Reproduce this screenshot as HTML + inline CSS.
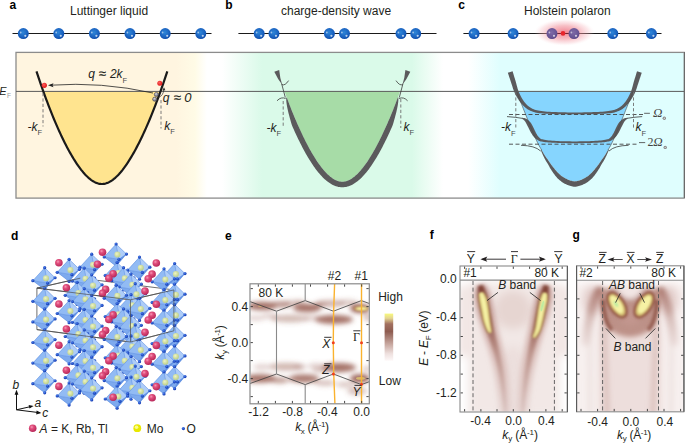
<!DOCTYPE html><html><head><meta charset="utf-8"><style>
html,body{margin:0;padding:0;background:#fff;width:685px;height:446px;overflow:hidden}
svg{display:block}text{font-family:"Liberation Sans",sans-serif}
.serif{font-family:"Liberation Serif",serif}
</style></head><body>
<svg width="685" height="446" viewBox="0 0 685 446">
<defs>
<radialGradient id="gAtom" cx="0.45" cy="0.4" r="0.6"><stop offset="0" stop-color="#2f86d8"/><stop offset="0.7" stop-color="#1a62c0"/><stop offset="1" stop-color="#0e4aa8"/></radialGradient>
<radialGradient id="gAtomP" cx="0.45" cy="0.4" r="0.6"><stop offset="0" stop-color="#7e6aa6"/><stop offset="0.7" stop-color="#6a5696"/><stop offset="1" stop-color="#5a4888"/></radialGradient>
<radialGradient id="gGlow" cx="0.5" cy="0.5" r="0.5"><stop offset="0" stop-color="#ec5a6c" stop-opacity="0.75"/><stop offset="0.5" stop-color="#f08a96" stop-opacity="0.55"/><stop offset="0.8" stop-color="#f6b4bc" stop-opacity="0.3"/><stop offset="1" stop-color="#fde0e4" stop-opacity="0"/></radialGradient>
<linearGradient id="gTop" x1="16" x2="684" y1="0" y2="0" gradientUnits="userSpaceOnUse"><stop offset="0" stop-color="#fff5e0"/><stop offset="0.2395" stop-color="#fff5e0"/><stop offset="0.2680" stop-color="#fffbe6"/><stop offset="0.2859" stop-color="#ffffff"/><stop offset="0.3084" stop-color="#ffffff"/><stop offset="0.3683" stop-color="#dafae9"/><stop offset="0.5928" stop-color="#dafae9"/><stop offset="0.6392" stop-color="#ffffff"/><stop offset="0.6766" stop-color="#ffffff"/><stop offset="0.7246" stop-color="#dffefe"/><stop offset="1" stop-color="#dffefe"/></linearGradient>
</defs>
<rect x="16" y="52" width="668" height="146.5" fill="url(#gTop)"/>
<path d="M43.32 91.4 L44.29 94.12 L45.27 96.8 L46.25 99.44 L47.22 102.05 L48.2 104.62 L49.18 107.15 L50.15 109.65 L51.13 112.11 L52.1 114.54 L53.08 116.93 L54.06 119.28 L55.03 121.6 L56.01 123.89 L56.99 126.14 L57.96 128.35 L58.94 130.53 L59.92 132.67 L60.89 134.77 L61.87 136.84 L62.84 138.88 L63.82 140.87 L64.8 142.83 L65.77 144.76 L66.75 146.64 L67.73 148.49 L68.7 150.3 L69.68 152.07 L70.66 153.8 L71.63 155.49 L72.61 157.14 L73.58 158.75 L74.56 160.32 L75.54 161.85 L76.51 163.33 L77.49 164.77 L78.47 166.17 L79.44 167.52 L80.42 168.83 L81.4 170.09 L82.37 171.3 L83.35 172.46 L84.33 173.58 L85.3 174.64 L86.28 175.66 L87.25 176.62 L88.23 177.53 L89.21 178.38 L90.18 179.18 L91.16 179.92 L92.14 180.61 L93.11 181.23 L94.09 181.8 L95.07 182.3 L96.04 182.74 L97.02 183.12 L97.99 183.43 L98.97 183.68 L99.95 183.86 L100.92 183.96 L101.9 184 L102.88 183.96 L103.85 183.86 L104.83 183.68 L105.81 183.43 L106.78 183.12 L107.76 182.74 L108.73 182.3 L109.71 181.8 L110.69 181.23 L111.66 180.61 L112.64 179.92 L113.62 179.18 L114.59 178.38 L115.57 177.53 L116.55 176.62 L117.52 175.66 L118.5 174.64 L119.47 173.58 L120.45 172.46 L121.43 171.3 L122.4 170.09 L123.38 168.83 L124.36 167.52 L125.33 166.17 L126.31 164.77 L127.29 163.33 L128.26 161.85 L129.24 160.32 L130.22 158.75 L131.19 157.14 L132.17 155.49 L133.14 153.8 L134.12 152.07 L135.1 150.3 L136.07 148.49 L137.05 146.64 L138.03 144.76 L139 142.83 L139.98 140.87 L140.96 138.88 L141.93 136.84 L142.91 134.77 L143.88 132.67 L144.86 130.53 L145.84 128.35 L146.81 126.14 L147.79 123.89 L148.77 121.6 L149.74 119.28 L150.72 116.93 L151.7 114.54 L152.67 112.11 L153.65 109.65 L154.62 107.15 L155.6 104.62 L156.58 102.05 L157.55 99.44 L158.53 96.8 L159.51 94.12 L160.48 91.4 Z" fill="#ffe48f"/>
<path d="M284.54 91.4 L285.51 94.05 L286.47 96.66 L287.43 99.24 L288.39 101.78 L289.36 104.28 L290.32 106.76 L291.28 109.19 L292.24 111.59 L293.21 113.96 L294.17 116.29 L295.13 118.59 L296.09 120.85 L297.06 123.08 L298.02 125.27 L298.98 127.43 L299.94 129.56 L300.91 131.65 L301.87 133.7 L302.83 135.72 L303.79 137.71 L304.76 139.65 L305.72 141.57 L306.68 143.44 L307.65 145.28 L308.61 147.08 L309.57 148.85 L310.53 150.58 L311.5 152.27 L312.46 153.92 L313.42 155.53 L314.38 157.1 L315.35 158.63 L316.31 160.12 L317.27 161.56 L318.23 162.97 L319.2 164.33 L320.16 165.65 L321.12 166.92 L322.08 168.15 L323.05 169.33 L324.01 170.47 L324.97 171.55 L325.94 172.59 L326.9 173.58 L327.86 174.51 L328.82 175.4 L329.79 176.23 L330.75 177.01 L331.71 177.73 L332.67 178.4 L333.64 179.01 L334.6 179.56 L335.56 180.05 L336.52 180.48 L337.49 180.85 L338.45 181.15 L339.41 181.39 L340.37 181.56 L341.34 181.66 L342.3 181.7 L343.26 181.66 L344.23 181.56 L345.19 181.39 L346.15 181.15 L347.11 180.85 L348.08 180.48 L349.04 180.05 L350 179.56 L350.96 179.01 L351.93 178.4 L352.89 177.73 L353.85 177.01 L354.81 176.23 L355.78 175.4 L356.74 174.51 L357.7 173.58 L358.66 172.59 L359.63 171.55 L360.59 170.47 L361.55 169.33 L362.52 168.15 L363.48 166.92 L364.44 165.65 L365.4 164.33 L366.37 162.97 L367.33 161.56 L368.29 160.12 L369.25 158.63 L370.22 157.1 L371.18 155.53 L372.14 153.92 L373.1 152.27 L374.07 150.58 L375.03 148.85 L375.99 147.08 L376.95 145.28 L377.92 143.44 L378.88 141.57 L379.84 139.65 L380.81 137.71 L381.77 135.72 L382.73 133.7 L383.69 131.65 L384.66 129.56 L385.62 127.43 L386.58 125.27 L387.54 123.08 L388.51 120.85 L389.47 118.59 L390.43 116.29 L391.39 113.96 L392.36 111.59 L393.32 109.19 L394.28 106.76 L395.24 104.28 L396.21 101.78 L397.17 99.24 L398.13 96.66 L399.09 94.05 L400.06 91.4 Z" fill="#a7dca7"/>
<path d="M516.63 91.4 L517.6 93.91 L518.57 96.42 L519.54 98.93 L520.51 101.44 L521.47 103.94 L522.44 106.43 L523.41 108.9 L524.38 111.36 L525.35 113.8 L526.32 116.22 L527.29 118.62 L528.26 121.01 L529.23 123.4 L530.2 125.78 L531.17 128.14 L532.14 130.47 L533.11 132.77 L534.08 135.03 L535.05 137.24 L536.02 139.4 L536.99 141.52 L537.96 143.53 L538.93 145.39 L539.9 147.1 L540.87 148.75 L541.84 150.41 L542.8 152.1 L543.77 153.76 L544.74 155.32 L545.71 156.75 L546.68 158.11 L547.65 159.46 L548.62 160.86 L549.59 162.31 L550.56 163.75 L551.53 165.11 L552.5 166.38 L553.47 167.59 L554.44 168.76 L555.41 169.87 L556.38 170.96 L557.35 172.04 L558.32 173.09 L559.29 174.07 L560.26 174.94 L561.23 175.7 L562.2 176.41 L563.17 177.08 L564.13 177.7 L565.1 178.26 L566.07 178.77 L567.04 179.2 L568.01 179.58 L568.98 179.96 L569.95 180.33 L570.92 180.67 L571.89 180.96 L572.86 181.19 L573.83 181.35 L574.8 181.4 L575.77 181.35 L576.74 181.19 L577.71 180.96 L578.68 180.67 L579.65 180.33 L580.62 179.96 L581.59 179.58 L582.56 179.2 L583.53 178.77 L584.5 178.26 L585.47 177.7 L586.43 177.08 L587.4 176.41 L588.37 175.7 L589.34 174.94 L590.31 174.07 L591.28 173.09 L592.25 172.04 L593.22 170.96 L594.19 169.87 L595.16 168.76 L596.13 167.59 L597.1 166.38 L598.07 165.11 L599.04 163.75 L600.01 162.31 L600.98 160.86 L601.95 159.46 L602.92 158.11 L603.89 156.75 L604.86 155.32 L605.83 153.76 L606.8 152.1 L607.76 150.41 L608.73 148.75 L609.7 147.1 L610.67 145.39 L611.64 143.53 L612.61 141.52 L613.58 139.4 L614.55 137.24 L615.52 135.03 L616.49 132.77 L617.46 130.47 L618.43 128.14 L619.4 125.78 L620.37 123.4 L621.34 121.01 L622.31 118.62 L623.28 116.22 L624.25 113.8 L625.22 111.36 L626.19 108.9 L627.16 106.43 L628.13 103.94 L629.09 101.44 L630.06 98.93 L631.03 96.42 L632 93.91 L632.97 91.4 Z" fill="#86d5fe"/>
<rect x="16" y="52.4" width="668.2" height="145.7" fill="none" stroke="#8c8c8c" stroke-width="1.3"/>
<line x1="684.5" y1="52" x2="684.5" y2="198" stroke="#6a6a6a" stroke-width="1"/>
<line x1="16" y1="91.4" x2="684" y2="91.4" stroke="#5a5a5a" stroke-width="1"/>
<path d="M36.48 71.3 L37.57 74.64 L38.66 77.92 L39.75 81.16 L40.84 84.35 L41.94 87.49 L43.03 90.58 L44.12 93.63 L45.21 96.62 L46.3 99.58 L47.39 102.48 L48.48 105.34 L49.57 108.16 L50.66 110.93 L51.75 113.66 L52.84 116.34 L53.93 118.97 L55.02 121.57 L56.11 124.12 L57.2 126.62 L58.29 129.08 L59.38 131.5 L60.47 133.87 L61.56 136.19 L62.65 138.47 L63.74 140.71 L64.83 142.9 L65.92 145.04 L67.01 147.14 L68.1 149.19 L69.19 151.19 L70.28 153.14 L71.37 155.04 L72.46 156.9 L73.55 158.7 L74.64 160.45 L75.73 162.15 L76.82 163.79 L77.91 165.38 L79 166.92 L80.09 168.4 L81.18 169.82 L82.28 171.18 L83.37 172.48 L84.46 173.72 L85.55 174.9 L86.64 176.02 L87.73 177.06 L88.82 178.05 L89.91 178.96 L91 179.8 L92.09 180.57 L93.18 181.27 L94.27 181.9 L95.36 182.44 L96.45 182.91 L97.54 183.3 L98.63 183.6 L99.72 183.82 L100.81 183.96 L101.9 184 L102.99 183.96 L104.08 183.82 L105.17 183.6 L106.26 183.3 L107.35 182.91 L108.44 182.44 L109.53 181.9 L110.62 181.27 L111.71 180.57 L112.8 179.8 L113.89 178.96 L114.98 178.05 L116.07 177.06 L117.16 176.02 L118.25 174.9 L119.34 173.72 L120.43 172.48 L121.52 171.18 L122.62 169.82 L123.71 168.4 L124.8 166.92 L125.89 165.38 L126.98 163.79 L128.07 162.15 L129.16 160.45 L130.25 158.7 L131.34 156.9 L132.43 155.04 L133.52 153.14 L134.61 151.19 L135.7 149.19 L136.79 147.14 L137.88 145.04 L138.97 142.9 L140.06 140.71 L141.15 138.47 L142.24 136.19 L143.33 133.87 L144.42 131.5 L145.51 129.08 L146.6 126.62 L147.69 124.12 L148.78 121.57 L149.87 118.97 L150.96 116.34 L152.05 113.66 L153.14 110.93 L154.23 108.16 L155.32 105.34 L156.41 102.48 L157.5 99.58 L158.59 96.62 L159.68 93.63 L160.77 90.58 L161.86 87.49 L162.96 84.35 L164.05 81.16 L165.14 77.92 L166.23 74.64 L167.32 71.3" fill="none" stroke="#1a1a1a" stroke-width="2.2"/>
<g stroke="#6e6e6e" stroke-width="0.9" stroke-dasharray="3.2 2.2"><line x1="43" y1="93" x2="43" y2="126.5"/><line x1="161" y1="100" x2="161" y2="128.5"/></g>
<path d="M153 93 Q101 81.5 50.5 85.2" fill="none" stroke="#222" stroke-width="0.8"/>
<path d="M48 85.2 L53.5 83.2 L52.5 85.3 L53.5 87.2 Z" fill="#222"/>
<path d="M158.5 97.5 Q163.5 95.5 163.8 89.5" fill="none" stroke="#333" stroke-width="0.7"/>
<path d="M164 87.2 L162.4 90.4 L165.4 90.2 Z" fill="#333"/>
<radialGradient id="gRed" cx="0.4" cy="0.4" r="0.6"><stop offset="0" stop-color="#ff6060"/><stop offset="1" stop-color="#e01818"/></radialGradient>
<radialGradient id="gGrey" cx="0.4" cy="0.35" r="0.6"><stop offset="0" stop-color="#d8d8e0"/><stop offset="1" stop-color="#6a6a78"/></radialGradient>
<circle cx="44.3" cy="85.3" r="2.6" fill="url(#gRed)"/>
<circle cx="159.8" cy="83.2" r="2.5" fill="url(#gRed)"/>
<circle cx="156.4" cy="94.5" r="2.1" fill="url(#gGrey)" stroke="#4a4a55" stroke-width="0.6"/>
<circle cx="154.7" cy="99.2" r="2.1" fill="url(#gGrey)" stroke="#4a4a55" stroke-width="0.6"/>
<text x="88.2" y="78.3" font-size="12" font-style="italic" fill="#231f20">q</text>
<text x="98.8" y="78.3" font-size="13" fill="#231f20" stroke="#231f20" stroke-width="0.25">≈</text>
<text x="109.9" y="78.3" font-size="12" font-style="italic" fill="#231f20">2k<tspan font-size="7.5" font-style="normal" dy="4.2" fill="#4a4a4a">F</tspan></text>
<text x="162.8" y="101.5" font-size="12" font-style="italic" fill="#231f20">q</text>
<text x="173.8" y="101.5" font-size="13" fill="#231f20" stroke="#231f20" stroke-width="0.25">≈</text>
<text x="184.3" y="101.6" font-size="13" font-style="italic" fill="#231f20">0</text>
<text x="27.4" y="131.2" font-size="12" font-style="italic" fill="#231f20">-k<tspan font-size="7.5" font-style="normal" dy="4.2" fill="#4a4a4a">F</tspan></text>
<text x="164.2" y="129.5" font-size="12" font-style="italic" fill="#231f20">k<tspan font-size="7.5" font-style="normal" dy="4.2" fill="#4a4a4a">F</tspan></text>
<text x="-0.8" y="94.8" font-size="11" font-style="italic" fill="#231f20">E</text>
<text x="7" y="97.7" font-size="6.5" fill="#9a9a9a">F</text>
<path d="M286.2 97.66 L286.24 100.39 L286.5 103.07 L286.92 105.68 L287.41 108.23 L287.96 110.73 L288.54 113.19 L289.16 115.61 L289.8 117.99 L290.46 120.33 L291.14 122.64 L291.85 124.96 L292.75 127.21 L293.7 129.34 L294.64 131.42 L295.58 133.47 L296.52 135.48 L297.46 137.47 L298.4 139.42 L299.34 141.34 L300.29 143.23 L301.23 145.09 L302.17 146.91 L303.12 148.7 L304.07 150.46 L305.02 152.19 L305.97 153.88 L306.92 155.54 L307.87 157.16 L308.83 158.75 L309.79 160.31 L310.75 161.83 L311.71 163.32 L312.68 164.77 L313.64 166.18 L314.62 167.55 L315.59 168.89 L316.57 170.19 L317.56 171.46 L318.55 172.68 L319.54 173.86 L320.55 175.01 L321.56 176.11 L322.58 177.17 L323.6 178.19 L324.64 179.17 L325.69 180.1 L326.75 180.99 L327.83 181.83 L328.92 182.62 L330.03 183.36 L331.16 184.05 L332.31 184.68 L333.48 185.26 L334.67 185.77 L335.89 186.22 L337.13 186.6 L338.4 186.9 L339.68 187.12 L340.99 187.25 L342.3 187.3 L343.61 187.25 L344.92 187.12 L346.2 186.9 L347.47 186.6 L348.71 186.22 L349.93 185.77 L351.12 185.26 L352.29 184.68 L353.44 184.05 L354.57 183.36 L355.68 182.62 L356.77 181.83 L357.85 180.99 L358.91 180.1 L359.96 179.17 L361 178.19 L362.02 177.17 L363.04 176.11 L364.05 175.01 L365.06 173.86 L366.05 172.68 L367.04 171.46 L368.03 170.19 L369.01 168.89 L369.98 167.55 L370.96 166.18 L371.92 164.77 L372.89 163.32 L373.85 161.83 L374.81 160.31 L375.77 158.75 L376.73 157.16 L377.68 155.54 L378.63 153.88 L379.58 152.19 L380.53 150.46 L381.48 148.7 L382.43 146.91 L383.37 145.09 L384.31 143.23 L385.26 141.34 L386.2 139.42 L387.14 137.47 L388.08 135.48 L389.02 133.47 L389.96 131.42 L390.9 129.34 L391.85 127.21 L392.75 124.96 L393.46 122.64 L394.14 120.33 L394.8 117.99 L395.44 115.61 L396.06 113.19 L396.64 110.73 L397.19 108.23 L397.68 105.68 L398.1 103.07 L398.36 100.39 L398.4 97.66 L397.81 97.55 L396.86 100.08 L395.93 102.53 L395 104.93 L394.07 107.3 L393.15 109.64 L392.22 111.95 L391.29 114.22 L390.37 116.46 L389.44 118.67 L388.51 120.85 L387.6 122.95 L386.71 124.99 L385.79 127.05 L384.87 129.1 L383.94 131.11 L383.01 133.1 L382.09 135.05 L381.16 136.97 L380.24 138.86 L379.31 140.71 L378.39 142.53 L377.46 144.32 L376.54 146.07 L375.61 147.79 L374.69 149.47 L373.76 151.12 L372.84 152.73 L371.91 154.31 L370.99 155.84 L370.06 157.35 L369.13 158.81 L368.21 160.24 L367.28 161.63 L366.36 162.98 L365.43 164.29 L364.51 165.56 L363.58 166.79 L362.66 167.97 L361.73 169.11 L360.81 170.21 L359.88 171.27 L358.96 172.28 L358.03 173.25 L357.11 174.16 L356.18 175.04 L355.25 175.86 L354.33 176.63 L353.4 177.35 L352.48 178.02 L351.55 178.64 L350.63 179.21 L349.7 179.72 L348.78 180.17 L347.85 180.57 L346.93 180.91 L346 181.19 L345.08 181.41 L344.15 181.57 L343.23 181.67 L342.3 181.7 L341.37 181.67 L340.45 181.57 L339.52 181.41 L338.6 181.19 L337.67 180.91 L336.75 180.57 L335.82 180.17 L334.9 179.72 L333.97 179.21 L333.05 178.64 L332.12 178.02 L331.2 177.35 L330.27 176.63 L329.35 175.86 L328.42 175.04 L327.49 174.16 L326.57 173.25 L325.64 172.28 L324.72 171.27 L323.79 170.21 L322.87 169.11 L321.94 167.97 L321.02 166.79 L320.09 165.56 L319.17 164.29 L318.24 162.98 L317.32 161.63 L316.39 160.24 L315.47 158.81 L314.54 157.35 L313.61 155.84 L312.69 154.31 L311.76 152.73 L310.84 151.12 L309.91 149.47 L308.99 147.79 L308.06 146.07 L307.14 144.32 L306.21 142.53 L305.29 140.71 L304.36 138.86 L303.44 136.97 L302.51 135.05 L301.59 133.1 L300.66 131.11 L299.73 129.1 L298.81 127.05 L297.89 124.99 L297 122.95 L296.09 120.85 L295.16 118.67 L294.23 116.46 L293.31 114.22 L292.38 111.95 L291.45 109.64 L290.53 107.3 L289.6 104.93 L288.67 102.53 L287.74 100.08 L286.79 97.55 Z" fill="#5b5a5c"/>
<g stroke="#3a3a3a" stroke-width="0.8" fill="none">
<path d="M281.6 83.5 L285.3 97.5"/><path d="M403.0 83.5 L399.3 97.5"/>
<path d="M281.9 84.6 Q285 86 288.6 80.6"/><path d="M402.7 84.6 Q399.6 86 396 80.6"/>
<path d="M277 100.8 Q281 96.5 285.6 98.5"/><path d="M407.6 100.8 Q403.6 96.5 399 98.5"/>
</g>
<path d="M274.3 71.8 L279.2 70 Q279.9 78 282.2 84.8 Q277.6 79 274.3 71.8 Z" fill="#5b5a5c"/>
<path d="M410.3 71.8 L405.4 70 Q404.7 78 402.4 84.8 Q407 79 410.3 71.8 Z" fill="#5b5a5c"/>
<g stroke="#6e6e6e" stroke-width="0.9" stroke-dasharray="3.2 2.2"><line x1="283.2" y1="101" x2="283.2" y2="128"/><line x1="400.8" y1="99" x2="400.8" y2="128"/></g>
<text x="266.6" y="131.6" font-size="12" font-style="italic" fill="#231f20">-k<tspan font-size="7.5" font-style="normal" dy="4.2" fill="#4a4a4a">F</tspan></text>
<text x="403.4" y="131.2" font-size="12" font-style="italic" fill="#231f20">k<tspan font-size="7.5" font-style="normal" dy="4.2" fill="#4a4a4a">F</tspan></text>
<path d="M507.82 72.76 L508.09 73.53 L508.44 74.57 L508.85 75.8 L509.31 77.16 L509.79 78.6 L510.27 80.04 L510.74 81.43 L511.16 82.7 L511.55 83.88 L511.93 85.06 L512.31 86.25 L512.68 87.44 L513.07 88.63 L513.47 89.8 L513.89 90.95 L514.35 92.07 L514.82 93.13 L515.3 94.14 L515.79 95.11 L516.29 96.06 L516.81 96.97 L517.34 97.86 L517.88 98.72 L518.42 99.57 L518.98 100.4 L519.54 101.21 L520.12 102.01 L520.72 102.79 L521.33 103.55 L521.98 104.29 L522.65 105.02 L523.35 105.71 L524.05 106.38 L524.77 107.03 L525.51 107.67 L526.28 108.3 L527.1 108.9 L527.98 109.48 L528.91 110.01 L529.89 110.5 L530.88 110.95 L531.87 111.35 L532.89 111.73 L533.97 112.07 L535.13 112.38 L536.4 112.66 L537.79 112.91 L539.33 113.14 L541.06 113.34 L542.95 113.51 L544.97 113.66 L547.09 113.77 L549.28 113.87 L551.51 113.96 L553.74 114.03 L555.96 114.1 L558.19 114.17 L560.47 114.23 L562.78 114.28 L565.13 114.31 L567.49 114.34 L569.87 114.35 L572.24 114.35 L574.6 114.35 L576.98 114.35 L579.39 114.35 L581.82 114.34 L584.25 114.31 L586.66 114.28 L589.04 114.23 L591.37 114.17 L593.64 114.1 L595.87 114.03 L598.12 113.96 L600.35 113.87 L602.54 113.77 L604.65 113.66 L606.66 113.51 L608.54 113.34 L610.27 113.14 L611.81 112.91 L613.2 112.66 L614.47 112.38 L615.63 112.07 L616.71 111.73 L617.73 111.35 L618.72 110.95 L619.71 110.5 L620.69 110.01 L621.62 109.48 L622.5 108.9 L623.32 108.3 L624.09 107.67 L624.83 107.03 L625.55 106.38 L626.25 105.71 L626.95 105.02 L627.62 104.29 L628.27 103.55 L628.88 102.79 L629.48 102.01 L630.06 101.21 L630.62 100.4 L631.18 99.57 L631.72 98.72 L632.26 97.86 L632.79 96.97 L633.31 96.06 L633.81 95.11 L634.3 94.14 L634.78 93.13 L635.25 92.07 L635.71 90.95 L636.13 89.8 L636.53 88.63 L636.92 87.44 L637.29 86.25 L637.67 85.06 L638.05 83.88 L638.44 82.7 L638.86 81.43 L639.33 80.04 L639.81 78.6 L640.29 77.16 L640.75 75.8 L641.16 74.57 L641.51 73.53 L641.78 72.76 L637.02 71.24 L636.79 72.02 L636.47 73.06 L636.09 74.3 L635.67 75.68 L635.23 77.13 L634.78 78.59 L634.35 80 L633.96 81.3 L633.61 82.54 L633.28 83.78 L632.96 85 L632.65 86.19 L632.33 87.35 L632.02 88.46 L631.69 89.52 L631.35 90.53 L630.98 91.51 L630.6 92.45 L630.2 93.37 L629.79 94.26 L629.37 95.12 L628.94 95.97 L628.49 96.8 L628.02 97.63 L627.55 98.44 L627.08 99.23 L626.6 100 L626.1 100.74 L625.6 101.46 L625.08 102.15 L624.53 102.83 L623.95 103.49 L623.34 104.15 L622.72 104.8 L622.09 105.42 L621.45 106.02 L620.77 106.58 L620.07 107.12 L619.32 107.62 L618.49 108.1 L617.62 108.54 L616.74 108.95 L615.84 109.33 L614.88 109.68 L613.84 110.01 L612.69 110.31 L611.4 110.6 L609.93 110.86 L608.28 111.1 L606.46 111.3 L604.49 111.47 L602.41 111.63 L600.25 111.76 L598.03 111.88 L595.79 111.99 L593.56 112.1 L591.31 112.19 L588.99 112.26 L586.62 112.32 L584.22 112.36 L581.8 112.4 L579.37 112.42 L576.97 112.44 L574.6 112.45 L572.24 112.44 L569.88 112.42 L567.51 112.4 L565.16 112.36 L562.82 112.32 L560.52 112.26 L558.25 112.19 L556.04 112.1 L553.83 111.99 L551.6 111.88 L549.38 111.76 L547.21 111.63 L545.12 111.47 L543.15 111.3 L541.32 111.1 L539.67 110.86 L538.2 110.6 L536.91 110.31 L535.76 110.01 L534.72 109.68 L533.76 109.33 L532.86 108.95 L531.98 108.54 L531.11 108.1 L530.28 107.62 L529.53 107.12 L528.83 106.58 L528.15 106.02 L527.51 105.42 L526.88 104.8 L526.26 104.15 L525.65 103.49 L525.07 102.83 L524.52 102.15 L524 101.46 L523.5 100.74 L523 100 L522.52 99.23 L522.05 98.44 L521.58 97.63 L521.11 96.8 L520.66 95.97 L520.23 95.12 L519.81 94.26 L519.4 93.37 L519 92.45 L518.62 91.51 L518.25 90.53 L517.91 89.52 L517.58 88.46 L517.27 87.35 L516.95 86.19 L516.64 85 L516.32 83.78 L515.99 82.54 L515.64 81.3 L515.25 80 L514.82 78.59 L514.37 77.13 L513.93 75.68 L513.51 74.3 L513.13 73.06 L512.81 72.02 L512.58 71.24 Z" fill="#5b5a5c"/>
<path d="M521.85 118.57 L522.08 118.79 L522.4 119.03 L522.77 119.28 L523.18 119.56 L523.59 119.86 L523.98 120.17 L524.33 120.5 L524.61 120.83 L524.89 121.2 L525.17 121.61 L525.46 122.04 L525.74 122.5 L526.01 122.98 L526.28 123.49 L526.55 124.03 L526.81 124.59 L527.13 125.13 L527.46 125.73 L527.79 126.38 L528.13 127.09 L528.48 127.82 L528.83 128.57 L529.2 129.33 L529.56 130.07 L529.95 130.74 L530.33 131.44 L530.72 132.15 L531.12 132.88 L531.54 133.62 L531.97 134.35 L532.42 135.07 L532.9 135.75 L533.4 136.34 L533.9 136.91 L534.42 137.46 L534.95 137.99 L535.5 138.49 L536.08 138.97 L536.69 139.41 L537.29 139.79 L537.83 140.13 L538.32 140.43 L538.85 140.72 L539.43 140.99 L540.1 141.23 L540.85 141.43 L541.74 141.61 L542.8 141.78 L544.03 141.97 L545.41 142.14 L546.92 142.29 L548.55 142.43 L550.28 142.55 L552.1 142.66 L553.99 142.76 L555.95 142.85 L558.02 142.94 L560.22 143.01 L562.52 143.07 L564.91 143.12 L567.34 143.16 L569.78 143.19 L572.21 143.2 L574.6 143.2 L577 143.2 L579.47 143.19 L581.97 143.16 L584.47 143.12 L586.92 143.07 L589.29 143.01 L591.55 142.94 L593.65 142.85 L595.62 142.76 L597.53 142.66 L599.35 142.55 L601.08 142.43 L602.7 142.29 L604.2 142.14 L605.57 141.97 L606.8 141.78 L607.86 141.61 L608.75 141.43 L609.5 141.23 L610.17 140.99 L610.75 140.72 L611.28 140.43 L611.77 140.13 L612.31 139.79 L612.91 139.41 L613.52 138.97 L614.1 138.49 L614.65 137.99 L615.18 137.46 L615.7 136.91 L616.2 136.34 L616.7 135.75 L617.18 135.07 L617.63 134.35 L618.06 133.62 L618.48 132.88 L618.88 132.15 L619.27 131.44 L619.65 130.74 L620.04 130.07 L620.4 129.33 L620.77 128.57 L621.12 127.82 L621.47 127.09 L621.81 126.38 L622.14 125.73 L622.47 125.13 L622.79 124.59 L623.05 124.03 L623.32 123.49 L623.59 122.98 L623.86 122.5 L624.14 122.04 L624.43 121.61 L624.71 121.2 L624.99 120.83 L625.27 120.5 L625.62 120.17 L626.01 119.86 L626.42 119.56 L626.83 119.28 L627.2 119.03 L627.52 118.79 L627.75 118.57 L627.45 117.83 L627.15 117.83 L626.77 117.85 L626.3 117.91 L625.78 117.99 L625.21 118.11 L624.62 118.27 L624 118.49 L623.41 118.77 L622.87 119.08 L622.34 119.42 L621.81 119.79 L621.29 120.2 L620.76 120.65 L620.24 121.13 L619.73 121.65 L619.21 122.21 L618.76 122.88 L618.33 123.59 L617.91 124.32 L617.51 125.06 L617.11 125.81 L616.72 126.54 L616.35 127.24 L615.96 127.93 L615.61 128.68 L615.26 129.44 L614.93 130.19 L614.6 130.92 L614.27 131.62 L613.95 132.28 L613.63 132.89 L613.3 133.45 L612.98 134.03 L612.64 134.6 L612.31 135.14 L611.98 135.65 L611.63 136.13 L611.28 136.58 L610.91 136.99 L610.49 137.41 L610.05 137.79 L609.67 138.13 L609.34 138.42 L609.01 138.66 L608.6 138.9 L608.06 139.13 L607.34 139.37 L606.4 139.62 L605.25 139.83 L603.94 140.03 L602.48 140.21 L600.9 140.39 L599.2 140.54 L597.4 140.69 L595.51 140.83 L593.55 140.95 L591.47 141.05 L589.23 141.14 L586.87 141.21 L584.43 141.28 L581.95 141.33 L579.45 141.36 L576.99 141.39 L574.6 141.4 L572.22 141.39 L569.8 141.36 L567.36 141.33 L564.94 141.28 L562.57 141.21 L560.28 141.14 L558.09 141.05 L556.05 140.95 L554.11 140.83 L552.23 140.69 L550.43 140.54 L548.73 140.39 L547.14 140.21 L545.67 140.03 L544.36 139.83 L543.2 139.62 L542.26 139.37 L541.54 139.13 L541 138.9 L540.59 138.66 L540.26 138.42 L539.93 138.13 L539.55 137.79 L539.11 137.41 L538.69 136.99 L538.32 136.58 L537.97 136.13 L537.62 135.65 L537.29 135.14 L536.96 134.6 L536.62 134.03 L536.3 133.45 L535.97 132.89 L535.65 132.28 L535.33 131.62 L535 130.92 L534.67 130.19 L534.34 129.44 L533.99 128.68 L533.64 127.93 L533.25 127.24 L532.88 126.54 L532.49 125.81 L532.09 125.06 L531.69 124.32 L531.27 123.59 L530.84 122.88 L530.39 122.21 L529.87 121.65 L529.36 121.13 L528.84 120.65 L528.31 120.2 L527.79 119.79 L527.26 119.42 L526.73 119.08 L526.19 118.77 L525.6 118.49 L524.98 118.27 L524.39 118.11 L523.82 117.99 L523.3 117.91 L522.83 117.85 L522.45 117.83 L522.15 117.83 Z" fill="#5b5a5c"/>
<path d="M540.61 149.88 L541.14 151.11 L541.68 152.35 L542.22 153.59 L542.77 154.81 L543.33 155.99 L543.89 157.11 L544.45 158.17 L545.01 159.2 L545.55 160.21 L546.1 161.25 L546.77 162.23 L547.43 163.21 L548.04 164.22 L548.58 165.29 L549.16 166.37 L549.74 167.39 L550.32 168.38 L550.9 169.33 L551.49 170.27 L552.09 171.18 L552.69 172.06 L553.28 172.91 L553.87 173.74 L554.47 174.59 L555.1 175.44 L555.76 176.28 L556.46 177.12 L557.21 177.93 L557.96 178.68 L558.67 179.33 L559.35 179.93 L560.05 180.53 L560.77 181.1 L561.52 181.66 L562.28 182.2 L563.07 182.71 L563.88 183.19 L564.72 183.63 L565.49 184 L566.17 184.32 L566.84 184.63 L567.55 184.94 L568.29 185.25 L569.08 185.56 L569.91 185.85 L570.79 186.12 L571.71 186.35 L572.69 186.53 L573.73 186.66 L574.8 186.7 L575.87 186.66 L576.91 186.53 L577.89 186.35 L578.81 186.12 L579.69 185.85 L580.52 185.56 L581.31 185.25 L582.05 184.94 L582.76 184.63 L583.43 184.32 L584.11 184 L584.88 183.63 L585.72 183.19 L586.53 182.71 L587.32 182.2 L588.08 181.66 L588.83 181.1 L589.55 180.53 L590.25 179.93 L590.93 179.33 L591.64 178.68 L592.39 177.93 L593.14 177.12 L593.84 176.28 L594.5 175.44 L595.13 174.59 L595.73 173.74 L596.32 172.91 L596.91 172.06 L597.51 171.18 L598.11 170.27 L598.7 169.33 L599.28 168.38 L599.86 167.39 L600.44 166.37 L601.02 165.29 L601.56 164.22 L602.17 163.21 L602.83 162.23 L603.5 161.25 L604.05 160.21 L604.59 159.2 L605.15 158.17 L605.71 157.11 L606.27 155.99 L606.83 154.81 L607.38 153.59 L607.92 152.35 L608.46 151.11 L608.99 149.88 L608.28 149.52 L607.61 150.68 L606.94 151.85 L606.27 153.02 L605.59 154.15 L604.92 155.23 L604.24 156.24 L603.57 157.2 L602.9 158.14 L602.22 159.08 L601.57 160 L600.92 160.94 L600.25 161.96 L599.56 162.99 L598.87 164 L598.2 164.94 L597.52 165.84 L596.85 166.7 L596.18 167.54 L595.5 168.36 L594.83 169.15 L594.16 169.92 L593.49 170.67 L592.82 171.42 L592.15 172.16 L591.48 172.89 L590.81 173.59 L590.13 174.24 L589.46 174.85 L588.78 175.39 L588.11 175.9 L587.44 176.39 L586.77 176.85 L586.11 177.3 L585.44 177.72 L584.77 178.11 L584.1 178.48 L583.44 178.81 L582.76 179.11 L582.09 179.38 L581.43 179.64 L580.77 179.9 L580.1 180.16 L579.44 180.41 L578.78 180.64 L578.12 180.85 L577.45 181.03 L576.79 181.18 L576.13 181.3 L575.47 181.37 L574.8 181.4 L574.13 181.37 L573.47 181.3 L572.81 181.18 L572.15 181.03 L571.48 180.85 L570.82 180.64 L570.16 180.41 L569.5 180.16 L568.83 179.9 L568.17 179.64 L567.51 179.38 L566.84 179.11 L566.16 178.81 L565.5 178.48 L564.83 178.11 L564.16 177.72 L563.49 177.3 L562.83 176.85 L562.16 176.39 L561.49 175.9 L560.82 175.39 L560.14 174.85 L559.47 174.24 L558.79 173.59 L558.12 172.89 L557.45 172.16 L556.78 171.42 L556.11 170.67 L555.44 169.92 L554.77 169.15 L554.1 168.36 L553.42 167.54 L552.75 166.7 L552.08 165.84 L551.4 164.94 L550.73 164 L550.04 162.99 L549.35 161.96 L548.68 160.94 L548.03 160 L547.38 159.08 L546.7 158.14 L546.03 157.2 L545.36 156.24 L544.68 155.23 L544.01 154.15 L543.33 153.02 L542.66 151.85 L541.99 150.68 L541.32 149.52 Z" fill="#5b5a5c"/>
<path d="M516.63 91.4 L517.46 93.56 L518.29 95.71 L519.12 97.87 L519.96 100.02 L520.79 102.17 L521.62 104.32 L522.45 106.45 L523.29 108.58 L524.12 110.69 L524.95 112.79 L525.78 114.88 L526.62 116.95 L527.45 119 L528.28 121.06 L529.11 123.11 L529.95 125.16 L530.78 127.19 L531.61 129.2 L532.44 131.19 L533.28 133.16 L534.11 135.1 L534.94 137 L535.77 138.86 L536.61 140.69 L537.44 142.47 L538.27 144.15 L539.1 145.71 L539.94 147.17 L540.77 148.58 L541.6 150" fill="none" stroke="#4a4a4a" stroke-width="0.6"/>
<path d="M632.97 91.4 L632.14 93.56 L631.31 95.71 L630.48 97.87 L629.64 100.02 L628.81 102.17 L627.98 104.32 L627.15 106.45 L626.31 108.58 L625.48 110.69 L624.65 112.79 L623.82 114.88 L622.98 116.95 L622.15 119 L621.32 121.06 L620.49 123.11 L619.65 125.16 L618.82 127.19 L617.99 129.2 L617.16 131.19 L616.32 133.16 L615.49 135.1 L614.66 137 L613.83 138.86 L612.99 140.69 L612.16 142.47 L611.33 144.15 L610.5 145.71 L609.66 147.17 L608.83 148.58 L608 150" fill="none" stroke="#4a4a4a" stroke-width="0.6"/>
<g stroke="#3a3a3a" stroke-width="0.8" fill="none">
<path d="M507 116.6 Q516 117.2 522 118.3"/><path d="M642.2 116.6 Q633.2 117.2 627.2 118.3"/>
<path d="M521 145.3 Q535 145.6 540.6 151"/><path d="M628.6 145.3 Q614.6 145.6 609 151"/>
</g>
<g stroke="#444" stroke-width="0.9" stroke-dasharray="4 2.5"><line x1="509" y1="114.5" x2="643" y2="114.5"/><line x1="509" y1="144.2" x2="638" y2="144.2"/></g>
<g stroke="#6e6e6e" stroke-width="0.9" stroke-dasharray="3.2 2.2"><line x1="515.8" y1="92" x2="515.8" y2="127.5"/><line x1="633.5" y1="92" x2="633.5" y2="129.5"/></g>
<text x="501" y="131.3" font-size="12" font-style="italic" fill="#231f20">-k<tspan font-size="7.5" font-style="normal" dy="4.2" fill="#4a4a4a">F</tspan></text>
<text x="635.4" y="131.4" font-size="12" font-style="italic" fill="#231f20">k<tspan font-size="7.5" font-style="normal" dy="4.2" fill="#4a4a4a">F</tspan></text>
<g stroke="#555" stroke-width="0.9"><line x1="644.1" y1="113.3" x2="649.9" y2="113.3"/><line x1="639" y1="142.6" x2="645.2" y2="142.6"/></g>
<text x="653" y="116.8" font-size="13" font-style="italic" fill="#444" class="serif">Ω</text>
<text x="647.6" y="145.9" font-size="12" fill="#444" class="serif">2</text>
<text x="653.3" y="145.9" font-size="13" font-style="italic" fill="#444" class="serif">Ω</text>
<circle cx="664.3" cy="118.2" r="1.7" fill="#888"/><circle cx="664.3" cy="118.2" r="0.7" fill="#ddd"/>
<circle cx="665.2" cy="147.4" r="1.7" fill="#888"/><circle cx="665.2" cy="147.4" r="0.7" fill="#ddd"/>
<g stroke="#1a1a1a" stroke-width="1.1"><line x1="12.5" y1="33.5" x2="211.5" y2="33.5"/><line x1="238.4" y1="33.5" x2="436.5" y2="33.5"/><line x1="463.4" y1="33.5" x2="661.5" y2="33.5"/></g>
<circle cx="23.3" cy="33.6" r="5.5" fill="url(#gAtom)"/><circle cx="20.7" cy="32.5" r="0.9" fill="#fff" opacity="0.55"/><circle cx="25.3" cy="35.8" r="1.1" fill="#fff" opacity="0.7"/>
<circle cx="58.8" cy="33.6" r="5.5" fill="url(#gAtom)"/><circle cx="56.2" cy="32.5" r="0.9" fill="#fff" opacity="0.55"/><circle cx="60.8" cy="35.8" r="1.1" fill="#fff" opacity="0.7"/>
<circle cx="94.4" cy="33.6" r="5.5" fill="url(#gAtom)"/><circle cx="91.8" cy="32.5" r="0.9" fill="#fff" opacity="0.55"/><circle cx="96.4" cy="35.8" r="1.1" fill="#fff" opacity="0.7"/>
<circle cx="130" cy="33.6" r="5.5" fill="url(#gAtom)"/><circle cx="127.4" cy="32.5" r="0.9" fill="#fff" opacity="0.55"/><circle cx="132" cy="35.8" r="1.1" fill="#fff" opacity="0.7"/>
<circle cx="165.2" cy="33.6" r="5.5" fill="url(#gAtom)"/><circle cx="162.6" cy="32.5" r="0.9" fill="#fff" opacity="0.55"/><circle cx="167.2" cy="35.8" r="1.1" fill="#fff" opacity="0.7"/>
<circle cx="200.8" cy="33.6" r="5.5" fill="url(#gAtom)"/><circle cx="198.2" cy="32.5" r="0.9" fill="#fff" opacity="0.55"/><circle cx="202.8" cy="35.8" r="1.1" fill="#fff" opacity="0.7"/>
<circle cx="259.2" cy="33.6" r="5.5" fill="url(#gAtom)"/><circle cx="256.6" cy="32.5" r="0.9" fill="#fff" opacity="0.55"/><circle cx="261.2" cy="35.8" r="1.1" fill="#fff" opacity="0.7"/>
<circle cx="274" cy="33.6" r="5.5" fill="url(#gAtom)"/><circle cx="271.4" cy="32.5" r="0.9" fill="#fff" opacity="0.55"/><circle cx="276" cy="35.8" r="1.1" fill="#fff" opacity="0.7"/>
<circle cx="329.4" cy="33.6" r="5.5" fill="url(#gAtom)"/><circle cx="326.8" cy="32.5" r="0.9" fill="#fff" opacity="0.55"/><circle cx="331.4" cy="35.8" r="1.1" fill="#fff" opacity="0.7"/>
<circle cx="344.5" cy="33.6" r="5.5" fill="url(#gAtom)"/><circle cx="341.9" cy="32.5" r="0.9" fill="#fff" opacity="0.55"/><circle cx="346.5" cy="35.8" r="1.1" fill="#fff" opacity="0.7"/>
<circle cx="401" cy="33.6" r="5.5" fill="url(#gAtom)"/><circle cx="398.4" cy="32.5" r="0.9" fill="#fff" opacity="0.55"/><circle cx="403" cy="35.8" r="1.1" fill="#fff" opacity="0.7"/>
<circle cx="415.7" cy="33.6" r="5.5" fill="url(#gAtom)"/><circle cx="413.1" cy="32.5" r="0.9" fill="#fff" opacity="0.55"/><circle cx="417.7" cy="35.8" r="1.1" fill="#fff" opacity="0.7"/>
<circle cx="474.1" cy="33.6" r="5.5" fill="url(#gAtom)"/><circle cx="471.5" cy="32.5" r="0.9" fill="#fff" opacity="0.55"/><circle cx="476.1" cy="35.8" r="1.1" fill="#fff" opacity="0.7"/>
<circle cx="513.1" cy="33.6" r="5.5" fill="url(#gAtom)"/><circle cx="510.5" cy="32.5" r="0.9" fill="#fff" opacity="0.55"/><circle cx="515.1" cy="35.8" r="1.1" fill="#fff" opacity="0.7"/>
<circle cx="612.8" cy="33.6" r="5.5" fill="url(#gAtom)"/><circle cx="610.2" cy="32.5" r="0.9" fill="#fff" opacity="0.55"/><circle cx="614.8" cy="35.8" r="1.1" fill="#fff" opacity="0.7"/>
<circle cx="651.4" cy="33.6" r="5.5" fill="url(#gAtom)"/><circle cx="648.8" cy="32.5" r="0.9" fill="#fff" opacity="0.55"/><circle cx="653.4" cy="35.8" r="1.1" fill="#fff" opacity="0.7"/>
<ellipse cx="564.5" cy="32.4" rx="30" ry="13.5" fill="url(#gGlow)"/>
<circle cx="552" cy="33.6" r="5.5" fill="url(#gAtomP)"/><circle cx="549.4" cy="32.5" r="0.9" fill="#fff" opacity="0.55"/><circle cx="554" cy="35.8" r="1.1" fill="#fff" opacity="0.7"/>
<circle cx="574" cy="33.6" r="5.5" fill="url(#gAtomP)"/><circle cx="571.4" cy="32.5" r="0.9" fill="#fff" opacity="0.55"/><circle cx="576" cy="35.8" r="1.1" fill="#fff" opacity="0.7"/>
<line x1="557.5" y1="33.5" x2="568.5" y2="33.5" stroke="#6a2030" stroke-width="0.9"/>
<circle cx="563" cy="33.4" r="2.3" fill="#e8242c"/>
<text x="70" y="15.3" font-size="12" fill="#231f20">Luttinger liquid</text>
<text x="281" y="15.2" font-size="12" fill="#231f20">charge-density wave</text>
<text x="524" y="14.9" font-size="12" fill="#231f20">Holstein polaron</text>
<text x="9.6" y="8.7" font-size="12" font-weight="bold" fill="#000">a</text>
<text x="225.2" y="8.8" font-size="12" font-weight="bold" fill="#000">b</text>
<text x="458.2" y="8.8" font-size="12" font-weight="bold" fill="#000">c</text>
<radialGradient id="gPink" cx="0.38" cy="0.35" r="0.65"><stop offset="0" stop-color="#f59ab8"/><stop offset="0.35" stop-color="#e2507e"/><stop offset="1" stop-color="#b8285a"/></radialGradient>
<radialGradient id="gMo" cx="0.4" cy="0.38" r="0.6"><stop offset="0" stop-color="#eef4c4"/><stop offset="1" stop-color="#bcd08a"/></radialGradient>
<radialGradient id="gO" cx="0.4" cy="0.35" r="0.6"><stop offset="0" stop-color="#4a80ee"/><stop offset="1" stop-color="#1238b0"/></radialGradient>
<text x="11" y="239.5" font-size="12" font-weight="bold" fill="#000">d</text>
<g stroke="#4a4a4a" stroke-width="0.8" fill="none"><path d="M36.9 288.1 L130.5 299.8 L173.9 289.9 L80.3 278.2 Z"/><path d="M36.9 329.6 L130.5 342 L173.9 330.8"/><path d="M36.9 288.1 L36.9 329.6 M130.5 299.8 L130.5 342 M173.9 289.9 L173.9 330.8"/></g>
<circle cx="111.78" cy="251.36" r="1.4" fill="#2a5ad0"/><path d="M116.1 244.02L126.47 254.06L116.1 266.16L104.22 256.98Z" fill="#98bff4" fill-opacity="0.92"/><path d="M116.1 244.02L126.47 254.06L118.91 259.35Z" fill="#aecdf8"/><path d="M126.47 254.06L116.1 266.16L118.91 259.35Z" fill="#6595e4"/><path d="M116.1 266.16L104.22 256.98L118.91 259.35Z" fill="#7eaaee"/><path d="M104.22 256.98L116.1 244.02L118.91 259.35Z" fill="#92bbf4"/><path d="M116.1 244.02L118.91 259.35L116.1 266.16M104.22 256.98L118.91 259.35L126.47 254.06M116.1 244.02L126.47 254.06L116.1 266.16L104.22 256.98Z" fill="none" stroke="#4a7ad8" stroke-width="0.45" stroke-opacity="0.8"/><circle cx="117.4" cy="254.6" r="3" fill="url(#gMo)"/><circle cx="116.1" cy="244.02" r="1.6" fill="url(#gO)"/><circle cx="116.1" cy="266.16" r="1.6" fill="url(#gO)"/><circle cx="104.22" cy="256.98" r="1.6" fill="url(#gO)"/><circle cx="126.47" cy="254.06" r="1.6" fill="url(#gO)"/><circle cx="118.91" cy="259.35" r="1.6" fill="url(#gO)"/>
<circle cx="170.28" cy="270.86" r="1.4" fill="#2a5ad0"/><path d="M174.6 263.52L184.97 273.56L174.6 285.66L162.72 276.48Z" fill="#98bff4" fill-opacity="0.92"/><path d="M174.6 263.52L184.97 273.56L177.41 278.85Z" fill="#aecdf8"/><path d="M184.97 273.56L174.6 285.66L177.41 278.85Z" fill="#6595e4"/><path d="M174.6 285.66L162.72 276.48L177.41 278.85Z" fill="#7eaaee"/><path d="M162.72 276.48L174.6 263.52L177.41 278.85Z" fill="#92bbf4"/><path d="M174.6 263.52L177.41 278.85L174.6 285.66M162.72 276.48L177.41 278.85L184.97 273.56M174.6 263.52L184.97 273.56L174.6 285.66L162.72 276.48Z" fill="none" stroke="#4a7ad8" stroke-width="0.45" stroke-opacity="0.8"/><circle cx="175.9" cy="274.1" r="3" fill="url(#gMo)"/><circle cx="174.6" cy="263.52" r="1.6" fill="url(#gO)"/><circle cx="174.6" cy="285.66" r="1.6" fill="url(#gO)"/><circle cx="162.72" cy="276.48" r="1.6" fill="url(#gO)"/><circle cx="184.97" cy="273.56" r="1.6" fill="url(#gO)"/><circle cx="177.41" cy="278.85" r="1.6" fill="url(#gO)"/>
<circle cx="135.18" cy="264.46" r="1.4" fill="#2a5ad0"/><path d="M139.5 257.12L149.87 267.16L139.5 279.26L127.62 270.08Z" fill="#98bff4" fill-opacity="0.92"/><path d="M139.5 257.12L149.87 267.16L142.31 272.45Z" fill="#aecdf8"/><path d="M149.87 267.16L139.5 279.26L142.31 272.45Z" fill="#6595e4"/><path d="M139.5 279.26L127.62 270.08L142.31 272.45Z" fill="#7eaaee"/><path d="M127.62 270.08L139.5 257.12L142.31 272.45Z" fill="#92bbf4"/><path d="M139.5 257.12L142.31 272.45L139.5 279.26M127.62 270.08L142.31 272.45L149.87 267.16M139.5 257.12L149.87 267.16L139.5 279.26L127.62 270.08Z" fill="none" stroke="#4a7ad8" stroke-width="0.45" stroke-opacity="0.8"/><circle cx="140.8" cy="267.7" r="3" fill="url(#gMo)"/><circle cx="139.5" cy="257.12" r="1.6" fill="url(#gO)"/><circle cx="139.5" cy="279.26" r="1.6" fill="url(#gO)"/><circle cx="127.62" cy="270.08" r="1.6" fill="url(#gO)"/><circle cx="149.87" cy="267.16" r="1.6" fill="url(#gO)"/><circle cx="142.31" cy="272.45" r="1.6" fill="url(#gO)"/>
<circle cx="159.68" cy="276.16" r="1.4" fill="#2a5ad0"/><path d="M164 268.82L174.37 278.86L164 290.96L152.12 281.78Z" fill="#98bff4" fill-opacity="0.92"/><path d="M164 268.82L174.37 278.86L166.81 284.15Z" fill="#aecdf8"/><path d="M174.37 278.86L164 290.96L166.81 284.15Z" fill="#6595e4"/><path d="M164 290.96L152.12 281.78L166.81 284.15Z" fill="#7eaaee"/><path d="M152.12 281.78L164 268.82L166.81 284.15Z" fill="#92bbf4"/><path d="M164 268.82L166.81 284.15L164 290.96M152.12 281.78L166.81 284.15L174.37 278.86M164 268.82L174.37 278.86L164 290.96L152.12 281.78Z" fill="none" stroke="#4a7ad8" stroke-width="0.45" stroke-opacity="0.8"/><circle cx="165.3" cy="279.4" r="3" fill="url(#gMo)"/><circle cx="164" cy="268.82" r="1.6" fill="url(#gO)"/><circle cx="164" cy="290.96" r="1.6" fill="url(#gO)"/><circle cx="152.12" cy="281.78" r="1.6" fill="url(#gO)"/><circle cx="174.37" cy="278.86" r="1.6" fill="url(#gO)"/><circle cx="166.81" cy="284.15" r="1.6" fill="url(#gO)"/>
<circle cx="87.38" cy="261.56" r="1.4" fill="#2a5ad0"/><path d="M91.7 254.22L102.07 264.26L91.7 276.36L79.82 267.18Z" fill="#98bff4" fill-opacity="0.92"/><path d="M91.7 254.22L102.07 264.26L94.51 269.55Z" fill="#aecdf8"/><path d="M102.07 264.26L91.7 276.36L94.51 269.55Z" fill="#6595e4"/><path d="M91.7 276.36L79.82 267.18L94.51 269.55Z" fill="#7eaaee"/><path d="M79.82 267.18L91.7 254.22L94.51 269.55Z" fill="#92bbf4"/><path d="M91.7 254.22L94.51 269.55L91.7 276.36M79.82 267.18L94.51 269.55L102.07 264.26M91.7 254.22L102.07 264.26L91.7 276.36L79.82 267.18Z" fill="none" stroke="#4a7ad8" stroke-width="0.45" stroke-opacity="0.8"/><circle cx="93" cy="264.8" r="3" fill="url(#gMo)"/><circle cx="91.7" cy="254.22" r="1.6" fill="url(#gO)"/><circle cx="91.7" cy="276.36" r="1.6" fill="url(#gO)"/><circle cx="79.82" cy="267.18" r="1.6" fill="url(#gO)"/><circle cx="102.07" cy="264.26" r="1.6" fill="url(#gO)"/><circle cx="94.51" cy="269.55" r="1.6" fill="url(#gO)"/>
<circle cx="112.78" cy="269.76" r="1.4" fill="#2a5ad0"/><path d="M117.1 262.42L127.47 272.46L117.1 284.56L105.22 275.38Z" fill="#98bff4" fill-opacity="0.92"/><path d="M117.1 262.42L127.47 272.46L119.91 277.75Z" fill="#aecdf8"/><path d="M127.47 272.46L117.1 284.56L119.91 277.75Z" fill="#6595e4"/><path d="M117.1 284.56L105.22 275.38L119.91 277.75Z" fill="#7eaaee"/><path d="M105.22 275.38L117.1 262.42L119.91 277.75Z" fill="#92bbf4"/><path d="M117.1 262.42L119.91 277.75L117.1 284.56M105.22 275.38L119.91 277.75L127.47 272.46M117.1 262.42L127.47 272.46L117.1 284.56L105.22 275.38Z" fill="none" stroke="#4a7ad8" stroke-width="0.45" stroke-opacity="0.8"/><circle cx="118.4" cy="273" r="3" fill="url(#gMo)"/><circle cx="117.1" cy="262.42" r="1.6" fill="url(#gO)"/><circle cx="117.1" cy="284.56" r="1.6" fill="url(#gO)"/><circle cx="105.22" cy="275.38" r="1.6" fill="url(#gO)"/><circle cx="127.47" cy="272.46" r="1.6" fill="url(#gO)"/><circle cx="119.91" cy="277.75" r="1.6" fill="url(#gO)"/>
<circle cx="119.18" cy="275.06" r="1.4" fill="#2a5ad0"/><path d="M123.5 267.72L133.87 277.76L123.5 289.86L111.62 280.68Z" fill="#98bff4" fill-opacity="0.92"/><path d="M123.5 267.72L133.87 277.76L126.31 283.05Z" fill="#aecdf8"/><path d="M133.87 277.76L123.5 289.86L126.31 283.05Z" fill="#6595e4"/><path d="M123.5 289.86L111.62 280.68L126.31 283.05Z" fill="#7eaaee"/><path d="M111.62 280.68L123.5 267.72L126.31 283.05Z" fill="#92bbf4"/><path d="M123.5 267.72L126.31 283.05L123.5 289.86M111.62 280.68L126.31 283.05L133.87 277.76M123.5 267.72L133.87 277.76L123.5 289.86L111.62 280.68Z" fill="none" stroke="#4a7ad8" stroke-width="0.45" stroke-opacity="0.8"/><circle cx="124.8" cy="278.3" r="3" fill="url(#gMo)"/><circle cx="123.5" cy="267.72" r="1.6" fill="url(#gO)"/><circle cx="123.5" cy="289.86" r="1.6" fill="url(#gO)"/><circle cx="111.62" cy="280.68" r="1.6" fill="url(#gO)"/><circle cx="133.87" cy="277.76" r="1.6" fill="url(#gO)"/><circle cx="126.31" cy="283.05" r="1.6" fill="url(#gO)"/>
<circle cx="170.28" cy="291.46" r="1.4" fill="#2a5ad0"/><path d="M174.6 284.12L184.97 294.16L174.6 306.26L162.72 297.08Z" fill="#98bff4" fill-opacity="0.92"/><path d="M174.6 284.12L184.97 294.16L177.41 299.45Z" fill="#aecdf8"/><path d="M184.97 294.16L174.6 306.26L177.41 299.45Z" fill="#6595e4"/><path d="M174.6 306.26L162.72 297.08L177.41 299.45Z" fill="#7eaaee"/><path d="M162.72 297.08L174.6 284.12L177.41 299.45Z" fill="#92bbf4"/><path d="M174.6 284.12L177.41 299.45L174.6 306.26M162.72 297.08L177.41 299.45L184.97 294.16M174.6 284.12L184.97 294.16L174.6 306.26L162.72 297.08Z" fill="none" stroke="#4a7ad8" stroke-width="0.45" stroke-opacity="0.8"/><circle cx="175.9" cy="294.7" r="3" fill="url(#gMo)"/><circle cx="174.6" cy="284.12" r="1.6" fill="url(#gO)"/><circle cx="174.6" cy="306.26" r="1.6" fill="url(#gO)"/><circle cx="162.72" cy="297.08" r="1.6" fill="url(#gO)"/><circle cx="184.97" cy="294.16" r="1.6" fill="url(#gO)"/><circle cx="177.41" cy="299.45" r="1.6" fill="url(#gO)"/>
<circle cx="126.68" cy="281.46" r="1.4" fill="#2a5ad0"/><path d="M131 274.12L141.37 284.16L131 296.26L119.12 287.08Z" fill="#98bff4" fill-opacity="0.92"/><path d="M131 274.12L141.37 284.16L133.81 289.45Z" fill="#aecdf8"/><path d="M141.37 284.16L131 296.26L133.81 289.45Z" fill="#6595e4"/><path d="M131 296.26L119.12 287.08L133.81 289.45Z" fill="#7eaaee"/><path d="M119.12 287.08L131 274.12L133.81 289.45Z" fill="#92bbf4"/><path d="M131 274.12L133.81 289.45L131 296.26M119.12 287.08L133.81 289.45L141.37 284.16M131 274.12L141.37 284.16L131 296.26L119.12 287.08Z" fill="none" stroke="#4a7ad8" stroke-width="0.45" stroke-opacity="0.8"/><circle cx="132.3" cy="284.7" r="3" fill="url(#gMo)"/><circle cx="131" cy="274.12" r="1.6" fill="url(#gO)"/><circle cx="131" cy="296.26" r="1.6" fill="url(#gO)"/><circle cx="119.12" cy="287.08" r="1.6" fill="url(#gO)"/><circle cx="141.37" cy="284.16" r="1.6" fill="url(#gO)"/><circle cx="133.81" cy="289.45" r="1.6" fill="url(#gO)"/>
<circle cx="64.78" cy="266.66" r="1.4" fill="#2a5ad0"/><path d="M69.1 259.32L79.47 269.36L69.1 281.46L57.22 272.28Z" fill="#98bff4" fill-opacity="0.92"/><path d="M69.1 259.32L79.47 269.36L71.91 274.65Z" fill="#aecdf8"/><path d="M79.47 269.36L69.1 281.46L71.91 274.65Z" fill="#6595e4"/><path d="M69.1 281.46L57.22 272.28L71.91 274.65Z" fill="#7eaaee"/><path d="M57.22 272.28L69.1 259.32L71.91 274.65Z" fill="#92bbf4"/><path d="M69.1 259.32L71.91 274.65L69.1 281.46M57.22 272.28L71.91 274.65L79.47 269.36M69.1 259.32L79.47 269.36L69.1 281.46L57.22 272.28Z" fill="none" stroke="#4a7ad8" stroke-width="0.45" stroke-opacity="0.8"/><circle cx="70.4" cy="269.9" r="3" fill="url(#gMo)"/><circle cx="69.1" cy="259.32" r="1.6" fill="url(#gO)"/><circle cx="69.1" cy="281.46" r="1.6" fill="url(#gO)"/><circle cx="57.22" cy="272.28" r="1.6" fill="url(#gO)"/><circle cx="79.47" cy="269.36" r="1.6" fill="url(#gO)"/><circle cx="71.91" cy="274.65" r="1.6" fill="url(#gO)"/>
<circle cx="159.68" cy="296.76" r="1.4" fill="#2a5ad0"/><path d="M164 289.42L174.37 299.46L164 311.56L152.12 302.38Z" fill="#98bff4" fill-opacity="0.92"/><path d="M164 289.42L174.37 299.46L166.81 304.75Z" fill="#aecdf8"/><path d="M174.37 299.46L164 311.56L166.81 304.75Z" fill="#6595e4"/><path d="M164 311.56L152.12 302.38L166.81 304.75Z" fill="#7eaaee"/><path d="M152.12 302.38L164 289.42L166.81 304.75Z" fill="#92bbf4"/><path d="M164 289.42L166.81 304.75L164 311.56M152.12 302.38L166.81 304.75L174.37 299.46M164 289.42L174.37 299.46L164 311.56L152.12 302.38Z" fill="none" stroke="#4a7ad8" stroke-width="0.45" stroke-opacity="0.8"/><circle cx="165.3" cy="300" r="3" fill="url(#gMo)"/><circle cx="164" cy="289.42" r="1.6" fill="url(#gO)"/><circle cx="164" cy="311.56" r="1.6" fill="url(#gO)"/><circle cx="152.12" cy="302.38" r="1.6" fill="url(#gO)"/><circle cx="174.37" cy="299.46" r="1.6" fill="url(#gO)"/><circle cx="166.81" cy="304.75" r="1.6" fill="url(#gO)"/>
<circle cx="79.88" cy="275.46" r="1.4" fill="#2a5ad0"/><path d="M84.2 268.12L94.57 278.16L84.2 290.26L72.32 281.08Z" fill="#98bff4" fill-opacity="0.92"/><path d="M84.2 268.12L94.57 278.16L87.01 283.45Z" fill="#aecdf8"/><path d="M94.57 278.16L84.2 290.26L87.01 283.45Z" fill="#6595e4"/><path d="M84.2 290.26L72.32 281.08L87.01 283.45Z" fill="#7eaaee"/><path d="M72.32 281.08L84.2 268.12L87.01 283.45Z" fill="#92bbf4"/><path d="M84.2 268.12L87.01 283.45L84.2 290.26M72.32 281.08L87.01 283.45L94.57 278.16M84.2 268.12L94.57 278.16L84.2 290.26L72.32 281.08Z" fill="none" stroke="#4a7ad8" stroke-width="0.45" stroke-opacity="0.8"/><circle cx="85.5" cy="278.7" r="3" fill="url(#gMo)"/><circle cx="84.2" cy="268.12" r="1.6" fill="url(#gO)"/><circle cx="84.2" cy="290.26" r="1.6" fill="url(#gO)"/><circle cx="72.32" cy="281.08" r="1.6" fill="url(#gO)"/><circle cx="94.57" cy="278.16" r="1.6" fill="url(#gO)"/><circle cx="87.01" cy="283.45" r="1.6" fill="url(#gO)"/>
<circle cx="130.88" cy="291.06" r="1.4" fill="#2a5ad0"/><path d="M135.2 283.72L145.57 293.76L135.2 305.86L123.32 296.68Z" fill="#98bff4" fill-opacity="0.92"/><path d="M135.2 283.72L145.57 293.76L138.01 299.05Z" fill="#aecdf8"/><path d="M145.57 293.76L135.2 305.86L138.01 299.05Z" fill="#6595e4"/><path d="M135.2 305.86L123.32 296.68L138.01 299.05Z" fill="#7eaaee"/><path d="M123.32 296.68L135.2 283.72L138.01 299.05Z" fill="#92bbf4"/><path d="M135.2 283.72L138.01 299.05L135.2 305.86M123.32 296.68L138.01 299.05L145.57 293.76M135.2 283.72L145.57 293.76L135.2 305.86L123.32 296.68Z" fill="none" stroke="#4a7ad8" stroke-width="0.45" stroke-opacity="0.8"/><circle cx="136.5" cy="294.3" r="3" fill="url(#gMo)"/><circle cx="135.2" cy="283.72" r="1.6" fill="url(#gO)"/><circle cx="135.2" cy="305.86" r="1.6" fill="url(#gO)"/><circle cx="123.32" cy="296.68" r="1.6" fill="url(#gO)"/><circle cx="145.57" cy="293.76" r="1.6" fill="url(#gO)"/><circle cx="138.01" cy="299.05" r="1.6" fill="url(#gO)"/>
<circle cx="87.38" cy="282.16" r="1.4" fill="#2a5ad0"/><path d="M91.7 274.82L102.07 284.86L91.7 296.96L79.82 287.78Z" fill="#98bff4" fill-opacity="0.92"/><path d="M91.7 274.82L102.07 284.86L94.51 290.15Z" fill="#aecdf8"/><path d="M102.07 284.86L91.7 296.96L94.51 290.15Z" fill="#6595e4"/><path d="M91.7 296.96L79.82 287.78L94.51 290.15Z" fill="#7eaaee"/><path d="M79.82 287.78L91.7 274.82L94.51 290.15Z" fill="#92bbf4"/><path d="M91.7 274.82L94.51 290.15L91.7 296.96M79.82 287.78L94.51 290.15L102.07 284.86M91.7 274.82L102.07 284.86L91.7 296.96L79.82 287.78Z" fill="none" stroke="#4a7ad8" stroke-width="0.45" stroke-opacity="0.8"/><circle cx="93" cy="285.4" r="3" fill="url(#gMo)"/><circle cx="91.7" cy="274.82" r="1.6" fill="url(#gO)"/><circle cx="91.7" cy="296.96" r="1.6" fill="url(#gO)"/><circle cx="79.82" cy="287.78" r="1.6" fill="url(#gO)"/><circle cx="102.07" cy="284.86" r="1.6" fill="url(#gO)"/><circle cx="94.51" cy="290.15" r="1.6" fill="url(#gO)"/>
<circle cx="111.78" cy="292.56" r="1.4" fill="#2a5ad0"/><path d="M116.1 285.22L126.47 295.26L116.1 307.36L104.22 298.18Z" fill="#98bff4" fill-opacity="0.92"/><path d="M116.1 285.22L126.47 295.26L118.91 300.55Z" fill="#aecdf8"/><path d="M126.47 295.26L116.1 307.36L118.91 300.55Z" fill="#6595e4"/><path d="M116.1 307.36L104.22 298.18L118.91 300.55Z" fill="#7eaaee"/><path d="M104.22 298.18L116.1 285.22L118.91 300.55Z" fill="#92bbf4"/><path d="M116.1 285.22L118.91 300.55L116.1 307.36M104.22 298.18L118.91 300.55L126.47 295.26M116.1 285.22L126.47 295.26L116.1 307.36L104.22 298.18Z" fill="none" stroke="#4a7ad8" stroke-width="0.45" stroke-opacity="0.8"/><circle cx="117.4" cy="295.8" r="3" fill="url(#gMo)"/><circle cx="116.1" cy="285.22" r="1.6" fill="url(#gO)"/><circle cx="116.1" cy="307.36" r="1.6" fill="url(#gO)"/><circle cx="104.22" cy="298.18" r="1.6" fill="url(#gO)"/><circle cx="126.47" cy="295.26" r="1.6" fill="url(#gO)"/><circle cx="118.91" cy="300.55" r="1.6" fill="url(#gO)"/>
<circle cx="170.28" cy="312.06" r="1.4" fill="#2a5ad0"/><path d="M174.6 304.72L184.97 314.76L174.6 326.86L162.72 317.68Z" fill="#98bff4" fill-opacity="0.92"/><path d="M174.6 304.72L184.97 314.76L177.41 320.05Z" fill="#aecdf8"/><path d="M184.97 314.76L174.6 326.86L177.41 320.05Z" fill="#6595e4"/><path d="M174.6 326.86L162.72 317.68L177.41 320.05Z" fill="#7eaaee"/><path d="M162.72 317.68L174.6 304.72L177.41 320.05Z" fill="#92bbf4"/><path d="M174.6 304.72L177.41 320.05L174.6 326.86M162.72 317.68L177.41 320.05L184.97 314.76M174.6 304.72L184.97 314.76L174.6 326.86L162.72 317.68Z" fill="none" stroke="#4a7ad8" stroke-width="0.45" stroke-opacity="0.8"/><circle cx="175.9" cy="315.3" r="3" fill="url(#gMo)"/><circle cx="174.6" cy="304.72" r="1.6" fill="url(#gO)"/><circle cx="174.6" cy="326.86" r="1.6" fill="url(#gO)"/><circle cx="162.72" cy="317.68" r="1.6" fill="url(#gO)"/><circle cx="184.97" cy="314.76" r="1.6" fill="url(#gO)"/><circle cx="177.41" cy="320.05" r="1.6" fill="url(#gO)"/>
<circle cx="40.38" cy="275.06" r="1.4" fill="#2a5ad0"/><path d="M44.7 267.72L55.07 277.76L44.7 289.86L32.82 280.68Z" fill="#98bff4" fill-opacity="0.92"/><path d="M44.7 267.72L55.07 277.76L47.51 283.05Z" fill="#aecdf8"/><path d="M55.07 277.76L44.7 289.86L47.51 283.05Z" fill="#6595e4"/><path d="M44.7 289.86L32.82 280.68L47.51 283.05Z" fill="#7eaaee"/><path d="M32.82 280.68L44.7 267.72L47.51 283.05Z" fill="#92bbf4"/><path d="M44.7 267.72L47.51 283.05L44.7 289.86M32.82 280.68L47.51 283.05L55.07 277.76M44.7 267.72L55.07 277.76L44.7 289.86L32.82 280.68Z" fill="none" stroke="#4a7ad8" stroke-width="0.45" stroke-opacity="0.8"/><circle cx="46" cy="278.3" r="3" fill="url(#gMo)"/><circle cx="44.7" cy="267.72" r="1.6" fill="url(#gO)"/><circle cx="44.7" cy="289.86" r="1.6" fill="url(#gO)"/><circle cx="32.82" cy="280.68" r="1.6" fill="url(#gO)"/><circle cx="55.07" cy="277.76" r="1.6" fill="url(#gO)"/><circle cx="47.51" cy="283.05" r="1.6" fill="url(#gO)"/>
<circle cx="126.68" cy="302.06" r="1.4" fill="#2a5ad0"/><path d="M131 294.72L141.37 304.76L131 316.86L119.12 307.68Z" fill="#98bff4" fill-opacity="0.92"/><path d="M131 294.72L141.37 304.76L133.81 310.05Z" fill="#aecdf8"/><path d="M141.37 304.76L131 316.86L133.81 310.05Z" fill="#6595e4"/><path d="M131 316.86L119.12 307.68L133.81 310.05Z" fill="#7eaaee"/><path d="M119.12 307.68L131 294.72L133.81 310.05Z" fill="#92bbf4"/><path d="M131 294.72L133.81 310.05L131 316.86M119.12 307.68L133.81 310.05L141.37 304.76M131 294.72L141.37 304.76L131 316.86L119.12 307.68Z" fill="none" stroke="#4a7ad8" stroke-width="0.45" stroke-opacity="0.8"/><circle cx="132.3" cy="305.3" r="3" fill="url(#gMo)"/><circle cx="131" cy="294.72" r="1.6" fill="url(#gO)"/><circle cx="131" cy="316.86" r="1.6" fill="url(#gO)"/><circle cx="119.12" cy="307.68" r="1.6" fill="url(#gO)"/><circle cx="141.37" cy="304.76" r="1.6" fill="url(#gO)"/><circle cx="133.81" cy="310.05" r="1.6" fill="url(#gO)"/>
<circle cx="135.18" cy="305.66" r="1.4" fill="#2a5ad0"/><path d="M139.5 298.32L149.87 308.36L139.5 320.46L127.62 311.28Z" fill="#98bff4" fill-opacity="0.92"/><path d="M139.5 298.32L149.87 308.36L142.31 313.65Z" fill="#aecdf8"/><path d="M149.87 308.36L139.5 320.46L142.31 313.65Z" fill="#6595e4"/><path d="M139.5 320.46L127.62 311.28L142.31 313.65Z" fill="#7eaaee"/><path d="M127.62 311.28L139.5 298.32L142.31 313.65Z" fill="#92bbf4"/><path d="M139.5 298.32L142.31 313.65L139.5 320.46M127.62 311.28L142.31 313.65L149.87 308.36M139.5 298.32L149.87 308.36L139.5 320.46L127.62 311.28Z" fill="none" stroke="#4a7ad8" stroke-width="0.45" stroke-opacity="0.8"/><circle cx="140.8" cy="308.9" r="3" fill="url(#gMo)"/><circle cx="139.5" cy="298.32" r="1.6" fill="url(#gO)"/><circle cx="139.5" cy="320.46" r="1.6" fill="url(#gO)"/><circle cx="127.62" cy="311.28" r="1.6" fill="url(#gO)"/><circle cx="149.87" cy="308.36" r="1.6" fill="url(#gO)"/><circle cx="142.31" cy="313.65" r="1.6" fill="url(#gO)"/>
<circle cx="72.78" cy="289.66" r="1.4" fill="#2a5ad0"/><path d="M77.1 282.32L87.47 292.36L77.1 304.46L65.22 295.28Z" fill="#98bff4" fill-opacity="0.92"/><path d="M77.1 282.32L87.47 292.36L79.91 297.65Z" fill="#aecdf8"/><path d="M87.47 292.36L77.1 304.46L79.91 297.65Z" fill="#6595e4"/><path d="M77.1 304.46L65.22 295.28L79.91 297.65Z" fill="#7eaaee"/><path d="M65.22 295.28L77.1 282.32L79.91 297.65Z" fill="#92bbf4"/><path d="M77.1 282.32L79.91 297.65L77.1 304.46M65.22 295.28L79.91 297.65L87.47 292.36M77.1 282.32L87.47 292.36L77.1 304.46L65.22 295.28Z" fill="none" stroke="#4a7ad8" stroke-width="0.45" stroke-opacity="0.8"/><circle cx="78.4" cy="292.9" r="3" fill="url(#gMo)"/><circle cx="77.1" cy="282.32" r="1.6" fill="url(#gO)"/><circle cx="77.1" cy="304.46" r="1.6" fill="url(#gO)"/><circle cx="65.22" cy="295.28" r="1.6" fill="url(#gO)"/><circle cx="87.47" cy="292.36" r="1.6" fill="url(#gO)"/><circle cx="79.91" cy="297.65" r="1.6" fill="url(#gO)"/>
<circle cx="159.68" cy="317.36" r="1.4" fill="#2a5ad0"/><path d="M164 310.02L174.37 320.06L164 332.16L152.12 322.98Z" fill="#98bff4" fill-opacity="0.92"/><path d="M164 310.02L174.37 320.06L166.81 325.35Z" fill="#aecdf8"/><path d="M174.37 320.06L164 332.16L166.81 325.35Z" fill="#6595e4"/><path d="M164 332.16L152.12 322.98L166.81 325.35Z" fill="#7eaaee"/><path d="M152.12 322.98L164 310.02L166.81 325.35Z" fill="#92bbf4"/><path d="M164 310.02L166.81 325.35L164 332.16M152.12 322.98L166.81 325.35L174.37 320.06M164 310.02L174.37 320.06L164 332.16L152.12 322.98Z" fill="none" stroke="#4a7ad8" stroke-width="0.45" stroke-opacity="0.8"/><circle cx="165.3" cy="320.6" r="3" fill="url(#gMo)"/><circle cx="164" cy="310.02" r="1.6" fill="url(#gO)"/><circle cx="164" cy="332.16" r="1.6" fill="url(#gO)"/><circle cx="152.12" cy="322.98" r="1.6" fill="url(#gO)"/><circle cx="174.37" cy="320.06" r="1.6" fill="url(#gO)"/><circle cx="166.81" cy="325.35" r="1.6" fill="url(#gO)"/>
<circle cx="79.88" cy="296.06" r="1.4" fill="#2a5ad0"/><path d="M84.2 288.72L94.57 298.76L84.2 310.86L72.32 301.68Z" fill="#98bff4" fill-opacity="0.92"/><path d="M84.2 288.72L94.57 298.76L87.01 304.05Z" fill="#aecdf8"/><path d="M94.57 298.76L84.2 310.86L87.01 304.05Z" fill="#6595e4"/><path d="M84.2 310.86L72.32 301.68L87.01 304.05Z" fill="#7eaaee"/><path d="M72.32 301.68L84.2 288.72L87.01 304.05Z" fill="#92bbf4"/><path d="M84.2 288.72L87.01 304.05L84.2 310.86M72.32 301.68L87.01 304.05L94.57 298.76M84.2 288.72L94.57 298.76L84.2 310.86L72.32 301.68Z" fill="none" stroke="#4a7ad8" stroke-width="0.45" stroke-opacity="0.8"/><circle cx="85.5" cy="299.3" r="3" fill="url(#gMo)"/><circle cx="84.2" cy="288.72" r="1.6" fill="url(#gO)"/><circle cx="84.2" cy="310.86" r="1.6" fill="url(#gO)"/><circle cx="72.32" cy="301.68" r="1.6" fill="url(#gO)"/><circle cx="94.57" cy="298.76" r="1.6" fill="url(#gO)"/><circle cx="87.01" cy="304.05" r="1.6" fill="url(#gO)"/>
<circle cx="87.38" cy="302.76" r="1.4" fill="#2a5ad0"/><path d="M91.7 295.42L102.07 305.46L91.7 317.56L79.82 308.38Z" fill="#98bff4" fill-opacity="0.92"/><path d="M91.7 295.42L102.07 305.46L94.51 310.75Z" fill="#aecdf8"/><path d="M102.07 305.46L91.7 317.56L94.51 310.75Z" fill="#6595e4"/><path d="M91.7 317.56L79.82 308.38L94.51 310.75Z" fill="#7eaaee"/><path d="M79.82 308.38L91.7 295.42L94.51 310.75Z" fill="#92bbf4"/><path d="M91.7 295.42L94.51 310.75L91.7 317.56M79.82 308.38L94.51 310.75L102.07 305.46M91.7 295.42L102.07 305.46L91.7 317.56L79.82 308.38Z" fill="none" stroke="#4a7ad8" stroke-width="0.45" stroke-opacity="0.8"/><circle cx="93" cy="306" r="3" fill="url(#gMo)"/><circle cx="91.7" cy="295.42" r="1.6" fill="url(#gO)"/><circle cx="91.7" cy="317.56" r="1.6" fill="url(#gO)"/><circle cx="79.82" cy="308.38" r="1.6" fill="url(#gO)"/><circle cx="102.07" cy="305.46" r="1.6" fill="url(#gO)"/><circle cx="94.51" cy="310.75" r="1.6" fill="url(#gO)"/>
<circle cx="112.78" cy="310.96" r="1.4" fill="#2a5ad0"/><path d="M117.1 303.62L127.47 313.66L117.1 325.76L105.22 316.58Z" fill="#98bff4" fill-opacity="0.92"/><path d="M117.1 303.62L127.47 313.66L119.91 318.95Z" fill="#aecdf8"/><path d="M127.47 313.66L117.1 325.76L119.91 318.95Z" fill="#6595e4"/><path d="M117.1 325.76L105.22 316.58L119.91 318.95Z" fill="#7eaaee"/><path d="M105.22 316.58L117.1 303.62L119.91 318.95Z" fill="#92bbf4"/><path d="M117.1 303.62L119.91 318.95L117.1 325.76M105.22 316.58L119.91 318.95L127.47 313.66M117.1 303.62L127.47 313.66L117.1 325.76L105.22 316.58Z" fill="none" stroke="#4a7ad8" stroke-width="0.45" stroke-opacity="0.8"/><circle cx="118.4" cy="314.2" r="3" fill="url(#gMo)"/><circle cx="117.1" cy="303.62" r="1.6" fill="url(#gO)"/><circle cx="117.1" cy="325.76" r="1.6" fill="url(#gO)"/><circle cx="105.22" cy="316.58" r="1.6" fill="url(#gO)"/><circle cx="127.47" cy="313.66" r="1.6" fill="url(#gO)"/><circle cx="119.91" cy="318.95" r="1.6" fill="url(#gO)"/>
<circle cx="119.18" cy="316.26" r="1.4" fill="#2a5ad0"/><path d="M123.5 308.92L133.87 318.96L123.5 331.06L111.62 321.88Z" fill="#98bff4" fill-opacity="0.92"/><path d="M123.5 308.92L133.87 318.96L126.31 324.25Z" fill="#aecdf8"/><path d="M133.87 318.96L123.5 331.06L126.31 324.25Z" fill="#6595e4"/><path d="M123.5 331.06L111.62 321.88L126.31 324.25Z" fill="#7eaaee"/><path d="M111.62 321.88L123.5 308.92L126.31 324.25Z" fill="#92bbf4"/><path d="M123.5 308.92L126.31 324.25L123.5 331.06M111.62 321.88L126.31 324.25L133.87 318.96M123.5 308.92L133.87 318.96L123.5 331.06L111.62 321.88Z" fill="none" stroke="#4a7ad8" stroke-width="0.45" stroke-opacity="0.8"/><circle cx="124.8" cy="319.5" r="3" fill="url(#gMo)"/><circle cx="123.5" cy="308.92" r="1.6" fill="url(#gO)"/><circle cx="123.5" cy="331.06" r="1.6" fill="url(#gO)"/><circle cx="111.62" cy="321.88" r="1.6" fill="url(#gO)"/><circle cx="133.87" cy="318.96" r="1.6" fill="url(#gO)"/><circle cx="126.31" cy="324.25" r="1.6" fill="url(#gO)"/>
<circle cx="170.28" cy="332.66" r="1.4" fill="#2a5ad0"/><path d="M174.6 325.32L184.97 335.36L174.6 347.46L162.72 338.28Z" fill="#98bff4" fill-opacity="0.92"/><path d="M174.6 325.32L184.97 335.36L177.41 340.65Z" fill="#aecdf8"/><path d="M184.97 335.36L174.6 347.46L177.41 340.65Z" fill="#6595e4"/><path d="M174.6 347.46L162.72 338.28L177.41 340.65Z" fill="#7eaaee"/><path d="M162.72 338.28L174.6 325.32L177.41 340.65Z" fill="#92bbf4"/><path d="M174.6 325.32L177.41 340.65L174.6 347.46M162.72 338.28L177.41 340.65L184.97 335.36M174.6 325.32L184.97 335.36L174.6 347.46L162.72 338.28Z" fill="none" stroke="#4a7ad8" stroke-width="0.45" stroke-opacity="0.8"/><circle cx="175.9" cy="335.9" r="3" fill="url(#gMo)"/><circle cx="174.6" cy="325.32" r="1.6" fill="url(#gO)"/><circle cx="174.6" cy="347.46" r="1.6" fill="url(#gO)"/><circle cx="162.72" cy="338.28" r="1.6" fill="url(#gO)"/><circle cx="184.97" cy="335.36" r="1.6" fill="url(#gO)"/><circle cx="177.41" cy="340.65" r="1.6" fill="url(#gO)"/>
<circle cx="40.38" cy="295.66" r="1.4" fill="#2a5ad0"/><path d="M44.7 288.32L55.07 298.36L44.7 310.46L32.82 301.28Z" fill="#98bff4" fill-opacity="0.92"/><path d="M44.7 288.32L55.07 298.36L47.51 303.65Z" fill="#aecdf8"/><path d="M55.07 298.36L44.7 310.46L47.51 303.65Z" fill="#6595e4"/><path d="M44.7 310.46L32.82 301.28L47.51 303.65Z" fill="#7eaaee"/><path d="M32.82 301.28L44.7 288.32L47.51 303.65Z" fill="#92bbf4"/><path d="M44.7 288.32L47.51 303.65L44.7 310.46M32.82 301.28L47.51 303.65L55.07 298.36M44.7 288.32L55.07 298.36L44.7 310.46L32.82 301.28Z" fill="none" stroke="#4a7ad8" stroke-width="0.45" stroke-opacity="0.8"/><circle cx="46" cy="298.9" r="3" fill="url(#gMo)"/><circle cx="44.7" cy="288.32" r="1.6" fill="url(#gO)"/><circle cx="44.7" cy="310.46" r="1.6" fill="url(#gO)"/><circle cx="32.82" cy="301.28" r="1.6" fill="url(#gO)"/><circle cx="55.07" cy="298.36" r="1.6" fill="url(#gO)"/><circle cx="47.51" cy="303.65" r="1.6" fill="url(#gO)"/>
<circle cx="126.68" cy="322.66" r="1.4" fill="#2a5ad0"/><path d="M131 315.32L141.37 325.36L131 337.46L119.12 328.28Z" fill="#98bff4" fill-opacity="0.92"/><path d="M131 315.32L141.37 325.36L133.81 330.65Z" fill="#aecdf8"/><path d="M141.37 325.36L131 337.46L133.81 330.65Z" fill="#6595e4"/><path d="M131 337.46L119.12 328.28L133.81 330.65Z" fill="#7eaaee"/><path d="M119.12 328.28L131 315.32L133.81 330.65Z" fill="#92bbf4"/><path d="M131 315.32L133.81 330.65L131 337.46M119.12 328.28L133.81 330.65L141.37 325.36M131 315.32L141.37 325.36L131 337.46L119.12 328.28Z" fill="none" stroke="#4a7ad8" stroke-width="0.45" stroke-opacity="0.8"/><circle cx="132.3" cy="325.9" r="3" fill="url(#gMo)"/><circle cx="131" cy="315.32" r="1.6" fill="url(#gO)"/><circle cx="131" cy="337.46" r="1.6" fill="url(#gO)"/><circle cx="119.12" cy="328.28" r="1.6" fill="url(#gO)"/><circle cx="141.37" cy="325.36" r="1.6" fill="url(#gO)"/><circle cx="133.81" cy="330.65" r="1.6" fill="url(#gO)"/>
<circle cx="64.78" cy="307.86" r="1.4" fill="#2a5ad0"/><path d="M69.1 300.52L79.47 310.56L69.1 322.66L57.22 313.48Z" fill="#98bff4" fill-opacity="0.92"/><path d="M69.1 300.52L79.47 310.56L71.91 315.85Z" fill="#aecdf8"/><path d="M79.47 310.56L69.1 322.66L71.91 315.85Z" fill="#6595e4"/><path d="M69.1 322.66L57.22 313.48L71.91 315.85Z" fill="#7eaaee"/><path d="M57.22 313.48L69.1 300.52L71.91 315.85Z" fill="#92bbf4"/><path d="M69.1 300.52L71.91 315.85L69.1 322.66M57.22 313.48L71.91 315.85L79.47 310.56M69.1 300.52L79.47 310.56L69.1 322.66L57.22 313.48Z" fill="none" stroke="#4a7ad8" stroke-width="0.45" stroke-opacity="0.8"/><circle cx="70.4" cy="311.1" r="3" fill="url(#gMo)"/><circle cx="69.1" cy="300.52" r="1.6" fill="url(#gO)"/><circle cx="69.1" cy="322.66" r="1.6" fill="url(#gO)"/><circle cx="57.22" cy="313.48" r="1.6" fill="url(#gO)"/><circle cx="79.47" cy="310.56" r="1.6" fill="url(#gO)"/><circle cx="71.91" cy="315.85" r="1.6" fill="url(#gO)"/>
<circle cx="159.68" cy="337.96" r="1.4" fill="#2a5ad0"/><path d="M164 330.62L174.37 340.66L164 352.76L152.12 343.58Z" fill="#98bff4" fill-opacity="0.92"/><path d="M164 330.62L174.37 340.66L166.81 345.95Z" fill="#aecdf8"/><path d="M174.37 340.66L164 352.76L166.81 345.95Z" fill="#6595e4"/><path d="M164 352.76L152.12 343.58L166.81 345.95Z" fill="#7eaaee"/><path d="M152.12 343.58L164 330.62L166.81 345.95Z" fill="#92bbf4"/><path d="M164 330.62L166.81 345.95L164 352.76M152.12 343.58L166.81 345.95L174.37 340.66M164 330.62L174.37 340.66L164 352.76L152.12 343.58Z" fill="none" stroke="#4a7ad8" stroke-width="0.45" stroke-opacity="0.8"/><circle cx="165.3" cy="341.2" r="3" fill="url(#gMo)"/><circle cx="164" cy="330.62" r="1.6" fill="url(#gO)"/><circle cx="164" cy="352.76" r="1.6" fill="url(#gO)"/><circle cx="152.12" cy="343.58" r="1.6" fill="url(#gO)"/><circle cx="174.37" cy="340.66" r="1.6" fill="url(#gO)"/><circle cx="166.81" cy="345.95" r="1.6" fill="url(#gO)"/>
<circle cx="79.88" cy="316.66" r="1.4" fill="#2a5ad0"/><path d="M84.2 309.32L94.57 319.36L84.2 331.46L72.32 322.28Z" fill="#98bff4" fill-opacity="0.92"/><path d="M84.2 309.32L94.57 319.36L87.01 324.65Z" fill="#aecdf8"/><path d="M94.57 319.36L84.2 331.46L87.01 324.65Z" fill="#6595e4"/><path d="M84.2 331.46L72.32 322.28L87.01 324.65Z" fill="#7eaaee"/><path d="M72.32 322.28L84.2 309.32L87.01 324.65Z" fill="#92bbf4"/><path d="M84.2 309.32L87.01 324.65L84.2 331.46M72.32 322.28L87.01 324.65L94.57 319.36M84.2 309.32L94.57 319.36L84.2 331.46L72.32 322.28Z" fill="none" stroke="#4a7ad8" stroke-width="0.45" stroke-opacity="0.8"/><circle cx="85.5" cy="319.9" r="3" fill="url(#gMo)"/><circle cx="84.2" cy="309.32" r="1.6" fill="url(#gO)"/><circle cx="84.2" cy="331.46" r="1.6" fill="url(#gO)"/><circle cx="72.32" cy="322.28" r="1.6" fill="url(#gO)"/><circle cx="94.57" cy="319.36" r="1.6" fill="url(#gO)"/><circle cx="87.01" cy="324.65" r="1.6" fill="url(#gO)"/>
<circle cx="130.88" cy="332.26" r="1.4" fill="#2a5ad0"/><path d="M135.2 324.92L145.57 334.96L135.2 347.06L123.32 337.88Z" fill="#98bff4" fill-opacity="0.92"/><path d="M135.2 324.92L145.57 334.96L138.01 340.25Z" fill="#aecdf8"/><path d="M145.57 334.96L135.2 347.06L138.01 340.25Z" fill="#6595e4"/><path d="M135.2 347.06L123.32 337.88L138.01 340.25Z" fill="#7eaaee"/><path d="M123.32 337.88L135.2 324.92L138.01 340.25Z" fill="#92bbf4"/><path d="M135.2 324.92L138.01 340.25L135.2 347.06M123.32 337.88L138.01 340.25L145.57 334.96M135.2 324.92L145.57 334.96L135.2 347.06L123.32 337.88Z" fill="none" stroke="#4a7ad8" stroke-width="0.45" stroke-opacity="0.8"/><circle cx="136.5" cy="335.5" r="3" fill="url(#gMo)"/><circle cx="135.2" cy="324.92" r="1.6" fill="url(#gO)"/><circle cx="135.2" cy="347.06" r="1.6" fill="url(#gO)"/><circle cx="123.32" cy="337.88" r="1.6" fill="url(#gO)"/><circle cx="145.57" cy="334.96" r="1.6" fill="url(#gO)"/><circle cx="138.01" cy="340.25" r="1.6" fill="url(#gO)"/>
<circle cx="87.38" cy="323.36" r="1.4" fill="#2a5ad0"/><path d="M91.7 316.02L102.07 326.06L91.7 338.16L79.82 328.98Z" fill="#98bff4" fill-opacity="0.92"/><path d="M91.7 316.02L102.07 326.06L94.51 331.35Z" fill="#aecdf8"/><path d="M102.07 326.06L91.7 338.16L94.51 331.35Z" fill="#6595e4"/><path d="M91.7 338.16L79.82 328.98L94.51 331.35Z" fill="#7eaaee"/><path d="M79.82 328.98L91.7 316.02L94.51 331.35Z" fill="#92bbf4"/><path d="M91.7 316.02L94.51 331.35L91.7 338.16M79.82 328.98L94.51 331.35L102.07 326.06M91.7 316.02L102.07 326.06L91.7 338.16L79.82 328.98Z" fill="none" stroke="#4a7ad8" stroke-width="0.45" stroke-opacity="0.8"/><circle cx="93" cy="326.6" r="3" fill="url(#gMo)"/><circle cx="91.7" cy="316.02" r="1.6" fill="url(#gO)"/><circle cx="91.7" cy="338.16" r="1.6" fill="url(#gO)"/><circle cx="79.82" cy="328.98" r="1.6" fill="url(#gO)"/><circle cx="102.07" cy="326.06" r="1.6" fill="url(#gO)"/><circle cx="94.51" cy="331.35" r="1.6" fill="url(#gO)"/>
<circle cx="111.78" cy="333.76" r="1.4" fill="#2a5ad0"/><path d="M116.1 326.42L126.47 336.46L116.1 348.56L104.22 339.38Z" fill="#98bff4" fill-opacity="0.92"/><path d="M116.1 326.42L126.47 336.46L118.91 341.75Z" fill="#aecdf8"/><path d="M126.47 336.46L116.1 348.56L118.91 341.75Z" fill="#6595e4"/><path d="M116.1 348.56L104.22 339.38L118.91 341.75Z" fill="#7eaaee"/><path d="M104.22 339.38L116.1 326.42L118.91 341.75Z" fill="#92bbf4"/><path d="M116.1 326.42L118.91 341.75L116.1 348.56M104.22 339.38L118.91 341.75L126.47 336.46M116.1 326.42L126.47 336.46L116.1 348.56L104.22 339.38Z" fill="none" stroke="#4a7ad8" stroke-width="0.45" stroke-opacity="0.8"/><circle cx="117.4" cy="337" r="3" fill="url(#gMo)"/><circle cx="116.1" cy="326.42" r="1.6" fill="url(#gO)"/><circle cx="116.1" cy="348.56" r="1.6" fill="url(#gO)"/><circle cx="104.22" cy="339.38" r="1.6" fill="url(#gO)"/><circle cx="126.47" cy="336.46" r="1.6" fill="url(#gO)"/><circle cx="118.91" cy="341.75" r="1.6" fill="url(#gO)"/>
<circle cx="170.28" cy="353.26" r="1.4" fill="#2a5ad0"/><path d="M174.6 345.92L184.97 355.96L174.6 368.06L162.72 358.88Z" fill="#98bff4" fill-opacity="0.92"/><path d="M174.6 345.92L184.97 355.96L177.41 361.25Z" fill="#aecdf8"/><path d="M184.97 355.96L174.6 368.06L177.41 361.25Z" fill="#6595e4"/><path d="M174.6 368.06L162.72 358.88L177.41 361.25Z" fill="#7eaaee"/><path d="M162.72 358.88L174.6 345.92L177.41 361.25Z" fill="#92bbf4"/><path d="M174.6 345.92L177.41 361.25L174.6 368.06M162.72 358.88L177.41 361.25L184.97 355.96M174.6 345.92L184.97 355.96L174.6 368.06L162.72 358.88Z" fill="none" stroke="#4a7ad8" stroke-width="0.45" stroke-opacity="0.8"/><circle cx="175.9" cy="356.5" r="3" fill="url(#gMo)"/><circle cx="174.6" cy="345.92" r="1.6" fill="url(#gO)"/><circle cx="174.6" cy="368.06" r="1.6" fill="url(#gO)"/><circle cx="162.72" cy="358.88" r="1.6" fill="url(#gO)"/><circle cx="184.97" cy="355.96" r="1.6" fill="url(#gO)"/><circle cx="177.41" cy="361.25" r="1.6" fill="url(#gO)"/>
<circle cx="40.38" cy="316.26" r="1.4" fill="#2a5ad0"/><path d="M44.7 308.92L55.07 318.96L44.7 331.06L32.82 321.88Z" fill="#98bff4" fill-opacity="0.92"/><path d="M44.7 308.92L55.07 318.96L47.51 324.25Z" fill="#aecdf8"/><path d="M55.07 318.96L44.7 331.06L47.51 324.25Z" fill="#6595e4"/><path d="M44.7 331.06L32.82 321.88L47.51 324.25Z" fill="#7eaaee"/><path d="M32.82 321.88L44.7 308.92L47.51 324.25Z" fill="#92bbf4"/><path d="M44.7 308.92L47.51 324.25L44.7 331.06M32.82 321.88L47.51 324.25L55.07 318.96M44.7 308.92L55.07 318.96L44.7 331.06L32.82 321.88Z" fill="none" stroke="#4a7ad8" stroke-width="0.45" stroke-opacity="0.8"/><circle cx="46" cy="319.5" r="3" fill="url(#gMo)"/><circle cx="44.7" cy="308.92" r="1.6" fill="url(#gO)"/><circle cx="44.7" cy="331.06" r="1.6" fill="url(#gO)"/><circle cx="32.82" cy="321.88" r="1.6" fill="url(#gO)"/><circle cx="55.07" cy="318.96" r="1.6" fill="url(#gO)"/><circle cx="47.51" cy="324.25" r="1.6" fill="url(#gO)"/>
<circle cx="126.68" cy="343.26" r="1.4" fill="#2a5ad0"/><path d="M131 335.92L141.37 345.96L131 358.06L119.12 348.88Z" fill="#98bff4" fill-opacity="0.92"/><path d="M131 335.92L141.37 345.96L133.81 351.25Z" fill="#aecdf8"/><path d="M141.37 345.96L131 358.06L133.81 351.25Z" fill="#6595e4"/><path d="M131 358.06L119.12 348.88L133.81 351.25Z" fill="#7eaaee"/><path d="M119.12 348.88L131 335.92L133.81 351.25Z" fill="#92bbf4"/><path d="M131 335.92L133.81 351.25L131 358.06M119.12 348.88L133.81 351.25L141.37 345.96M131 335.92L141.37 345.96L131 358.06L119.12 348.88Z" fill="none" stroke="#4a7ad8" stroke-width="0.45" stroke-opacity="0.8"/><circle cx="132.3" cy="346.5" r="3" fill="url(#gMo)"/><circle cx="131" cy="335.92" r="1.6" fill="url(#gO)"/><circle cx="131" cy="358.06" r="1.6" fill="url(#gO)"/><circle cx="119.12" cy="348.88" r="1.6" fill="url(#gO)"/><circle cx="141.37" cy="345.96" r="1.6" fill="url(#gO)"/><circle cx="133.81" cy="351.25" r="1.6" fill="url(#gO)"/>
<circle cx="135.18" cy="346.86" r="1.4" fill="#2a5ad0"/><path d="M139.5 339.52L149.87 349.56L139.5 361.66L127.62 352.48Z" fill="#98bff4" fill-opacity="0.92"/><path d="M139.5 339.52L149.87 349.56L142.31 354.85Z" fill="#aecdf8"/><path d="M149.87 349.56L139.5 361.66L142.31 354.85Z" fill="#6595e4"/><path d="M139.5 361.66L127.62 352.48L142.31 354.85Z" fill="#7eaaee"/><path d="M127.62 352.48L139.5 339.52L142.31 354.85Z" fill="#92bbf4"/><path d="M139.5 339.52L142.31 354.85L139.5 361.66M127.62 352.48L142.31 354.85L149.87 349.56M139.5 339.52L149.87 349.56L139.5 361.66L127.62 352.48Z" fill="none" stroke="#4a7ad8" stroke-width="0.45" stroke-opacity="0.8"/><circle cx="140.8" cy="350.1" r="3" fill="url(#gMo)"/><circle cx="139.5" cy="339.52" r="1.6" fill="url(#gO)"/><circle cx="139.5" cy="361.66" r="1.6" fill="url(#gO)"/><circle cx="127.62" cy="352.48" r="1.6" fill="url(#gO)"/><circle cx="149.87" cy="349.56" r="1.6" fill="url(#gO)"/><circle cx="142.31" cy="354.85" r="1.6" fill="url(#gO)"/>
<circle cx="72.78" cy="330.86" r="1.4" fill="#2a5ad0"/><path d="M77.1 323.52L87.47 333.56L77.1 345.66L65.22 336.48Z" fill="#98bff4" fill-opacity="0.92"/><path d="M77.1 323.52L87.47 333.56L79.91 338.85Z" fill="#aecdf8"/><path d="M87.47 333.56L77.1 345.66L79.91 338.85Z" fill="#6595e4"/><path d="M77.1 345.66L65.22 336.48L79.91 338.85Z" fill="#7eaaee"/><path d="M65.22 336.48L77.1 323.52L79.91 338.85Z" fill="#92bbf4"/><path d="M77.1 323.52L79.91 338.85L77.1 345.66M65.22 336.48L79.91 338.85L87.47 333.56M77.1 323.52L87.47 333.56L77.1 345.66L65.22 336.48Z" fill="none" stroke="#4a7ad8" stroke-width="0.45" stroke-opacity="0.8"/><circle cx="78.4" cy="334.1" r="3" fill="url(#gMo)"/><circle cx="77.1" cy="323.52" r="1.6" fill="url(#gO)"/><circle cx="77.1" cy="345.66" r="1.6" fill="url(#gO)"/><circle cx="65.22" cy="336.48" r="1.6" fill="url(#gO)"/><circle cx="87.47" cy="333.56" r="1.6" fill="url(#gO)"/><circle cx="79.91" cy="338.85" r="1.6" fill="url(#gO)"/>
<circle cx="159.68" cy="358.56" r="1.4" fill="#2a5ad0"/><path d="M164 351.22L174.37 361.26L164 373.36L152.12 364.18Z" fill="#98bff4" fill-opacity="0.92"/><path d="M164 351.22L174.37 361.26L166.81 366.55Z" fill="#aecdf8"/><path d="M174.37 361.26L164 373.36L166.81 366.55Z" fill="#6595e4"/><path d="M164 373.36L152.12 364.18L166.81 366.55Z" fill="#7eaaee"/><path d="M152.12 364.18L164 351.22L166.81 366.55Z" fill="#92bbf4"/><path d="M164 351.22L166.81 366.55L164 373.36M152.12 364.18L166.81 366.55L174.37 361.26M164 351.22L174.37 361.26L164 373.36L152.12 364.18Z" fill="none" stroke="#4a7ad8" stroke-width="0.45" stroke-opacity="0.8"/><circle cx="165.3" cy="361.8" r="3" fill="url(#gMo)"/><circle cx="164" cy="351.22" r="1.6" fill="url(#gO)"/><circle cx="164" cy="373.36" r="1.6" fill="url(#gO)"/><circle cx="152.12" cy="364.18" r="1.6" fill="url(#gO)"/><circle cx="174.37" cy="361.26" r="1.6" fill="url(#gO)"/><circle cx="166.81" cy="366.55" r="1.6" fill="url(#gO)"/>
<circle cx="79.88" cy="337.26" r="1.4" fill="#2a5ad0"/><path d="M84.2 329.92L94.57 339.96L84.2 352.06L72.32 342.88Z" fill="#98bff4" fill-opacity="0.92"/><path d="M84.2 329.92L94.57 339.96L87.01 345.25Z" fill="#aecdf8"/><path d="M94.57 339.96L84.2 352.06L87.01 345.25Z" fill="#6595e4"/><path d="M84.2 352.06L72.32 342.88L87.01 345.25Z" fill="#7eaaee"/><path d="M72.32 342.88L84.2 329.92L87.01 345.25Z" fill="#92bbf4"/><path d="M84.2 329.92L87.01 345.25L84.2 352.06M72.32 342.88L87.01 345.25L94.57 339.96M84.2 329.92L94.57 339.96L84.2 352.06L72.32 342.88Z" fill="none" stroke="#4a7ad8" stroke-width="0.45" stroke-opacity="0.8"/><circle cx="85.5" cy="340.5" r="3" fill="url(#gMo)"/><circle cx="84.2" cy="329.92" r="1.6" fill="url(#gO)"/><circle cx="84.2" cy="352.06" r="1.6" fill="url(#gO)"/><circle cx="72.32" cy="342.88" r="1.6" fill="url(#gO)"/><circle cx="94.57" cy="339.96" r="1.6" fill="url(#gO)"/><circle cx="87.01" cy="345.25" r="1.6" fill="url(#gO)"/>
<circle cx="87.38" cy="343.96" r="1.4" fill="#2a5ad0"/><path d="M91.7 336.62L102.07 346.66L91.7 358.76L79.82 349.58Z" fill="#98bff4" fill-opacity="0.92"/><path d="M91.7 336.62L102.07 346.66L94.51 351.95Z" fill="#aecdf8"/><path d="M102.07 346.66L91.7 358.76L94.51 351.95Z" fill="#6595e4"/><path d="M91.7 358.76L79.82 349.58L94.51 351.95Z" fill="#7eaaee"/><path d="M79.82 349.58L91.7 336.62L94.51 351.95Z" fill="#92bbf4"/><path d="M91.7 336.62L94.51 351.95L91.7 358.76M79.82 349.58L94.51 351.95L102.07 346.66M91.7 336.62L102.07 346.66L91.7 358.76L79.82 349.58Z" fill="none" stroke="#4a7ad8" stroke-width="0.45" stroke-opacity="0.8"/><circle cx="93" cy="347.2" r="3" fill="url(#gMo)"/><circle cx="91.7" cy="336.62" r="1.6" fill="url(#gO)"/><circle cx="91.7" cy="358.76" r="1.6" fill="url(#gO)"/><circle cx="79.82" cy="349.58" r="1.6" fill="url(#gO)"/><circle cx="102.07" cy="346.66" r="1.6" fill="url(#gO)"/><circle cx="94.51" cy="351.95" r="1.6" fill="url(#gO)"/>
<circle cx="112.78" cy="352.16" r="1.4" fill="#2a5ad0"/><path d="M117.1 344.82L127.47 354.86L117.1 366.96L105.22 357.78Z" fill="#98bff4" fill-opacity="0.92"/><path d="M117.1 344.82L127.47 354.86L119.91 360.15Z" fill="#aecdf8"/><path d="M127.47 354.86L117.1 366.96L119.91 360.15Z" fill="#6595e4"/><path d="M117.1 366.96L105.22 357.78L119.91 360.15Z" fill="#7eaaee"/><path d="M105.22 357.78L117.1 344.82L119.91 360.15Z" fill="#92bbf4"/><path d="M117.1 344.82L119.91 360.15L117.1 366.96M105.22 357.78L119.91 360.15L127.47 354.86M117.1 344.82L127.47 354.86L117.1 366.96L105.22 357.78Z" fill="none" stroke="#4a7ad8" stroke-width="0.45" stroke-opacity="0.8"/><circle cx="118.4" cy="355.4" r="3" fill="url(#gMo)"/><circle cx="117.1" cy="344.82" r="1.6" fill="url(#gO)"/><circle cx="117.1" cy="366.96" r="1.6" fill="url(#gO)"/><circle cx="105.22" cy="357.78" r="1.6" fill="url(#gO)"/><circle cx="127.47" cy="354.86" r="1.6" fill="url(#gO)"/><circle cx="119.91" cy="360.15" r="1.6" fill="url(#gO)"/>
<circle cx="119.18" cy="357.46" r="1.4" fill="#2a5ad0"/><path d="M123.5 350.12L133.87 360.16L123.5 372.26L111.62 363.08Z" fill="#98bff4" fill-opacity="0.92"/><path d="M123.5 350.12L133.87 360.16L126.31 365.45Z" fill="#aecdf8"/><path d="M133.87 360.16L123.5 372.26L126.31 365.45Z" fill="#6595e4"/><path d="M123.5 372.26L111.62 363.08L126.31 365.45Z" fill="#7eaaee"/><path d="M111.62 363.08L123.5 350.12L126.31 365.45Z" fill="#92bbf4"/><path d="M123.5 350.12L126.31 365.45L123.5 372.26M111.62 363.08L126.31 365.45L133.87 360.16M123.5 350.12L133.87 360.16L123.5 372.26L111.62 363.08Z" fill="none" stroke="#4a7ad8" stroke-width="0.45" stroke-opacity="0.8"/><circle cx="124.8" cy="360.7" r="3" fill="url(#gMo)"/><circle cx="123.5" cy="350.12" r="1.6" fill="url(#gO)"/><circle cx="123.5" cy="372.26" r="1.6" fill="url(#gO)"/><circle cx="111.62" cy="363.08" r="1.6" fill="url(#gO)"/><circle cx="133.87" cy="360.16" r="1.6" fill="url(#gO)"/><circle cx="126.31" cy="365.45" r="1.6" fill="url(#gO)"/>
<circle cx="170.28" cy="373.86" r="1.4" fill="#2a5ad0"/><path d="M174.6 366.52L184.97 376.56L174.6 388.66L162.72 379.48Z" fill="#98bff4" fill-opacity="0.92"/><path d="M174.6 366.52L184.97 376.56L177.41 381.85Z" fill="#aecdf8"/><path d="M184.97 376.56L174.6 388.66L177.41 381.85Z" fill="#6595e4"/><path d="M174.6 388.66L162.72 379.48L177.41 381.85Z" fill="#7eaaee"/><path d="M162.72 379.48L174.6 366.52L177.41 381.85Z" fill="#92bbf4"/><path d="M174.6 366.52L177.41 381.85L174.6 388.66M162.72 379.48L177.41 381.85L184.97 376.56M174.6 366.52L184.97 376.56L174.6 388.66L162.72 379.48Z" fill="none" stroke="#4a7ad8" stroke-width="0.45" stroke-opacity="0.8"/><circle cx="175.9" cy="377.1" r="3" fill="url(#gMo)"/><circle cx="174.6" cy="366.52" r="1.6" fill="url(#gO)"/><circle cx="174.6" cy="388.66" r="1.6" fill="url(#gO)"/><circle cx="162.72" cy="379.48" r="1.6" fill="url(#gO)"/><circle cx="184.97" cy="376.56" r="1.6" fill="url(#gO)"/><circle cx="177.41" cy="381.85" r="1.6" fill="url(#gO)"/>
<circle cx="40.38" cy="336.86" r="1.4" fill="#2a5ad0"/><path d="M44.7 329.52L55.07 339.56L44.7 351.66L32.82 342.48Z" fill="#98bff4" fill-opacity="0.92"/><path d="M44.7 329.52L55.07 339.56L47.51 344.85Z" fill="#aecdf8"/><path d="M55.07 339.56L44.7 351.66L47.51 344.85Z" fill="#6595e4"/><path d="M44.7 351.66L32.82 342.48L47.51 344.85Z" fill="#7eaaee"/><path d="M32.82 342.48L44.7 329.52L47.51 344.85Z" fill="#92bbf4"/><path d="M44.7 329.52L47.51 344.85L44.7 351.66M32.82 342.48L47.51 344.85L55.07 339.56M44.7 329.52L55.07 339.56L44.7 351.66L32.82 342.48Z" fill="none" stroke="#4a7ad8" stroke-width="0.45" stroke-opacity="0.8"/><circle cx="46" cy="340.1" r="3" fill="url(#gMo)"/><circle cx="44.7" cy="329.52" r="1.6" fill="url(#gO)"/><circle cx="44.7" cy="351.66" r="1.6" fill="url(#gO)"/><circle cx="32.82" cy="342.48" r="1.6" fill="url(#gO)"/><circle cx="55.07" cy="339.56" r="1.6" fill="url(#gO)"/><circle cx="47.51" cy="344.85" r="1.6" fill="url(#gO)"/>
<circle cx="126.68" cy="363.86" r="1.4" fill="#2a5ad0"/><path d="M131 356.52L141.37 366.56L131 378.66L119.12 369.48Z" fill="#98bff4" fill-opacity="0.92"/><path d="M131 356.52L141.37 366.56L133.81 371.85Z" fill="#aecdf8"/><path d="M141.37 366.56L131 378.66L133.81 371.85Z" fill="#6595e4"/><path d="M131 378.66L119.12 369.48L133.81 371.85Z" fill="#7eaaee"/><path d="M119.12 369.48L131 356.52L133.81 371.85Z" fill="#92bbf4"/><path d="M131 356.52L133.81 371.85L131 378.66M119.12 369.48L133.81 371.85L141.37 366.56M131 356.52L141.37 366.56L131 378.66L119.12 369.48Z" fill="none" stroke="#4a7ad8" stroke-width="0.45" stroke-opacity="0.8"/><circle cx="132.3" cy="367.1" r="3" fill="url(#gMo)"/><circle cx="131" cy="356.52" r="1.6" fill="url(#gO)"/><circle cx="131" cy="378.66" r="1.6" fill="url(#gO)"/><circle cx="119.12" cy="369.48" r="1.6" fill="url(#gO)"/><circle cx="141.37" cy="366.56" r="1.6" fill="url(#gO)"/><circle cx="133.81" cy="371.85" r="1.6" fill="url(#gO)"/>
<circle cx="64.78" cy="349.06" r="1.4" fill="#2a5ad0"/><path d="M69.1 341.72L79.47 351.76L69.1 363.86L57.22 354.68Z" fill="#98bff4" fill-opacity="0.92"/><path d="M69.1 341.72L79.47 351.76L71.91 357.05Z" fill="#aecdf8"/><path d="M79.47 351.76L69.1 363.86L71.91 357.05Z" fill="#6595e4"/><path d="M69.1 363.86L57.22 354.68L71.91 357.05Z" fill="#7eaaee"/><path d="M57.22 354.68L69.1 341.72L71.91 357.05Z" fill="#92bbf4"/><path d="M69.1 341.72L71.91 357.05L69.1 363.86M57.22 354.68L71.91 357.05L79.47 351.76M69.1 341.72L79.47 351.76L69.1 363.86L57.22 354.68Z" fill="none" stroke="#4a7ad8" stroke-width="0.45" stroke-opacity="0.8"/><circle cx="70.4" cy="352.3" r="3" fill="url(#gMo)"/><circle cx="69.1" cy="341.72" r="1.6" fill="url(#gO)"/><circle cx="69.1" cy="363.86" r="1.6" fill="url(#gO)"/><circle cx="57.22" cy="354.68" r="1.6" fill="url(#gO)"/><circle cx="79.47" cy="351.76" r="1.6" fill="url(#gO)"/><circle cx="71.91" cy="357.05" r="1.6" fill="url(#gO)"/>
<circle cx="159.68" cy="379.16" r="1.4" fill="#2a5ad0"/><path d="M164 371.82L174.37 381.86L164 393.96L152.12 384.78Z" fill="#98bff4" fill-opacity="0.92"/><path d="M164 371.82L174.37 381.86L166.81 387.15Z" fill="#aecdf8"/><path d="M174.37 381.86L164 393.96L166.81 387.15Z" fill="#6595e4"/><path d="M164 393.96L152.12 384.78L166.81 387.15Z" fill="#7eaaee"/><path d="M152.12 384.78L164 371.82L166.81 387.15Z" fill="#92bbf4"/><path d="M164 371.82L166.81 387.15L164 393.96M152.12 384.78L166.81 387.15L174.37 381.86M164 371.82L174.37 381.86L164 393.96L152.12 384.78Z" fill="none" stroke="#4a7ad8" stroke-width="0.45" stroke-opacity="0.8"/><circle cx="165.3" cy="382.4" r="3" fill="url(#gMo)"/><circle cx="164" cy="371.82" r="1.6" fill="url(#gO)"/><circle cx="164" cy="393.96" r="1.6" fill="url(#gO)"/><circle cx="152.12" cy="384.78" r="1.6" fill="url(#gO)"/><circle cx="174.37" cy="381.86" r="1.6" fill="url(#gO)"/><circle cx="166.81" cy="387.15" r="1.6" fill="url(#gO)"/>
<circle cx="79.88" cy="357.86" r="1.4" fill="#2a5ad0"/><path d="M84.2 350.52L94.57 360.56L84.2 372.66L72.32 363.48Z" fill="#98bff4" fill-opacity="0.92"/><path d="M84.2 350.52L94.57 360.56L87.01 365.85Z" fill="#aecdf8"/><path d="M94.57 360.56L84.2 372.66L87.01 365.85Z" fill="#6595e4"/><path d="M84.2 372.66L72.32 363.48L87.01 365.85Z" fill="#7eaaee"/><path d="M72.32 363.48L84.2 350.52L87.01 365.85Z" fill="#92bbf4"/><path d="M84.2 350.52L87.01 365.85L84.2 372.66M72.32 363.48L87.01 365.85L94.57 360.56M84.2 350.52L94.57 360.56L84.2 372.66L72.32 363.48Z" fill="none" stroke="#4a7ad8" stroke-width="0.45" stroke-opacity="0.8"/><circle cx="85.5" cy="361.1" r="3" fill="url(#gMo)"/><circle cx="84.2" cy="350.52" r="1.6" fill="url(#gO)"/><circle cx="84.2" cy="372.66" r="1.6" fill="url(#gO)"/><circle cx="72.32" cy="363.48" r="1.6" fill="url(#gO)"/><circle cx="94.57" cy="360.56" r="1.6" fill="url(#gO)"/><circle cx="87.01" cy="365.85" r="1.6" fill="url(#gO)"/>
<circle cx="130.88" cy="373.46" r="1.4" fill="#2a5ad0"/><path d="M135.2 366.12L145.57 376.16L135.2 388.26L123.32 379.08Z" fill="#98bff4" fill-opacity="0.92"/><path d="M135.2 366.12L145.57 376.16L138.01 381.45Z" fill="#aecdf8"/><path d="M145.57 376.16L135.2 388.26L138.01 381.45Z" fill="#6595e4"/><path d="M135.2 388.26L123.32 379.08L138.01 381.45Z" fill="#7eaaee"/><path d="M123.32 379.08L135.2 366.12L138.01 381.45Z" fill="#92bbf4"/><path d="M135.2 366.12L138.01 381.45L135.2 388.26M123.32 379.08L138.01 381.45L145.57 376.16M135.2 366.12L145.57 376.16L135.2 388.26L123.32 379.08Z" fill="none" stroke="#4a7ad8" stroke-width="0.45" stroke-opacity="0.8"/><circle cx="136.5" cy="376.7" r="3" fill="url(#gMo)"/><circle cx="135.2" cy="366.12" r="1.6" fill="url(#gO)"/><circle cx="135.2" cy="388.26" r="1.6" fill="url(#gO)"/><circle cx="123.32" cy="379.08" r="1.6" fill="url(#gO)"/><circle cx="145.57" cy="376.16" r="1.6" fill="url(#gO)"/><circle cx="138.01" cy="381.45" r="1.6" fill="url(#gO)"/>
<circle cx="87.38" cy="364.56" r="1.4" fill="#2a5ad0"/><path d="M91.7 357.22L102.07 367.26L91.7 379.36L79.82 370.18Z" fill="#98bff4" fill-opacity="0.92"/><path d="M91.7 357.22L102.07 367.26L94.51 372.55Z" fill="#aecdf8"/><path d="M102.07 367.26L91.7 379.36L94.51 372.55Z" fill="#6595e4"/><path d="M91.7 379.36L79.82 370.18L94.51 372.55Z" fill="#7eaaee"/><path d="M79.82 370.18L91.7 357.22L94.51 372.55Z" fill="#92bbf4"/><path d="M91.7 357.22L94.51 372.55L91.7 379.36M79.82 370.18L94.51 372.55L102.07 367.26M91.7 357.22L102.07 367.26L91.7 379.36L79.82 370.18Z" fill="none" stroke="#4a7ad8" stroke-width="0.45" stroke-opacity="0.8"/><circle cx="93" cy="367.8" r="3" fill="url(#gMo)"/><circle cx="91.7" cy="357.22" r="1.6" fill="url(#gO)"/><circle cx="91.7" cy="379.36" r="1.6" fill="url(#gO)"/><circle cx="79.82" cy="370.18" r="1.6" fill="url(#gO)"/><circle cx="102.07" cy="367.26" r="1.6" fill="url(#gO)"/><circle cx="94.51" cy="372.55" r="1.6" fill="url(#gO)"/>
<circle cx="111.78" cy="374.96" r="1.4" fill="#2a5ad0"/><path d="M116.1 367.62L126.47 377.66L116.1 389.76L104.22 380.58Z" fill="#98bff4" fill-opacity="0.92"/><path d="M116.1 367.62L126.47 377.66L118.91 382.95Z" fill="#aecdf8"/><path d="M126.47 377.66L116.1 389.76L118.91 382.95Z" fill="#6595e4"/><path d="M116.1 389.76L104.22 380.58L118.91 382.95Z" fill="#7eaaee"/><path d="M104.22 380.58L116.1 367.62L118.91 382.95Z" fill="#92bbf4"/><path d="M116.1 367.62L118.91 382.95L116.1 389.76M104.22 380.58L118.91 382.95L126.47 377.66M116.1 367.62L126.47 377.66L116.1 389.76L104.22 380.58Z" fill="none" stroke="#4a7ad8" stroke-width="0.45" stroke-opacity="0.8"/><circle cx="117.4" cy="378.2" r="3" fill="url(#gMo)"/><circle cx="116.1" cy="367.62" r="1.6" fill="url(#gO)"/><circle cx="116.1" cy="389.76" r="1.6" fill="url(#gO)"/><circle cx="104.22" cy="380.58" r="1.6" fill="url(#gO)"/><circle cx="126.47" cy="377.66" r="1.6" fill="url(#gO)"/><circle cx="118.91" cy="382.95" r="1.6" fill="url(#gO)"/>
<circle cx="40.38" cy="357.46" r="1.4" fill="#2a5ad0"/><path d="M44.7 350.12L55.07 360.16L44.7 372.26L32.82 363.08Z" fill="#98bff4" fill-opacity="0.92"/><path d="M44.7 350.12L55.07 360.16L47.51 365.45Z" fill="#aecdf8"/><path d="M55.07 360.16L44.7 372.26L47.51 365.45Z" fill="#6595e4"/><path d="M44.7 372.26L32.82 363.08L47.51 365.45Z" fill="#7eaaee"/><path d="M32.82 363.08L44.7 350.12L47.51 365.45Z" fill="#92bbf4"/><path d="M44.7 350.12L47.51 365.45L44.7 372.26M32.82 363.08L47.51 365.45L55.07 360.16M44.7 350.12L55.07 360.16L44.7 372.26L32.82 363.08Z" fill="none" stroke="#4a7ad8" stroke-width="0.45" stroke-opacity="0.8"/><circle cx="46" cy="360.7" r="3" fill="url(#gMo)"/><circle cx="44.7" cy="350.12" r="1.6" fill="url(#gO)"/><circle cx="44.7" cy="372.26" r="1.6" fill="url(#gO)"/><circle cx="32.82" cy="363.08" r="1.6" fill="url(#gO)"/><circle cx="55.07" cy="360.16" r="1.6" fill="url(#gO)"/><circle cx="47.51" cy="365.45" r="1.6" fill="url(#gO)"/>
<circle cx="126.68" cy="384.46" r="1.4" fill="#2a5ad0"/><path d="M131 377.12L141.37 387.16L131 399.26L119.12 390.08Z" fill="#98bff4" fill-opacity="0.92"/><path d="M131 377.12L141.37 387.16L133.81 392.45Z" fill="#aecdf8"/><path d="M141.37 387.16L131 399.26L133.81 392.45Z" fill="#6595e4"/><path d="M131 399.26L119.12 390.08L133.81 392.45Z" fill="#7eaaee"/><path d="M119.12 390.08L131 377.12L133.81 392.45Z" fill="#92bbf4"/><path d="M131 377.12L133.81 392.45L131 399.26M119.12 390.08L133.81 392.45L141.37 387.16M131 377.12L141.37 387.16L131 399.26L119.12 390.08Z" fill="none" stroke="#4a7ad8" stroke-width="0.45" stroke-opacity="0.8"/><circle cx="132.3" cy="387.7" r="3" fill="url(#gMo)"/><circle cx="131" cy="377.12" r="1.6" fill="url(#gO)"/><circle cx="131" cy="399.26" r="1.6" fill="url(#gO)"/><circle cx="119.12" cy="390.08" r="1.6" fill="url(#gO)"/><circle cx="141.37" cy="387.16" r="1.6" fill="url(#gO)"/><circle cx="133.81" cy="392.45" r="1.6" fill="url(#gO)"/>
<circle cx="135.18" cy="388.06" r="1.4" fill="#2a5ad0"/><path d="M139.5 380.72L149.87 390.76L139.5 402.86L127.62 393.68Z" fill="#98bff4" fill-opacity="0.92"/><path d="M139.5 380.72L149.87 390.76L142.31 396.05Z" fill="#aecdf8"/><path d="M149.87 390.76L139.5 402.86L142.31 396.05Z" fill="#6595e4"/><path d="M139.5 402.86L127.62 393.68L142.31 396.05Z" fill="#7eaaee"/><path d="M127.62 393.68L139.5 380.72L142.31 396.05Z" fill="#92bbf4"/><path d="M139.5 380.72L142.31 396.05L139.5 402.86M127.62 393.68L142.31 396.05L149.87 390.76M139.5 380.72L149.87 390.76L139.5 402.86L127.62 393.68Z" fill="none" stroke="#4a7ad8" stroke-width="0.45" stroke-opacity="0.8"/><circle cx="140.8" cy="391.3" r="3" fill="url(#gMo)"/><circle cx="139.5" cy="380.72" r="1.6" fill="url(#gO)"/><circle cx="139.5" cy="402.86" r="1.6" fill="url(#gO)"/><circle cx="127.62" cy="393.68" r="1.6" fill="url(#gO)"/><circle cx="149.87" cy="390.76" r="1.6" fill="url(#gO)"/><circle cx="142.31" cy="396.05" r="1.6" fill="url(#gO)"/>
<circle cx="72.78" cy="372.06" r="1.4" fill="#2a5ad0"/><path d="M77.1 364.72L87.47 374.76L77.1 386.86L65.22 377.68Z" fill="#98bff4" fill-opacity="0.92"/><path d="M77.1 364.72L87.47 374.76L79.91 380.05Z" fill="#aecdf8"/><path d="M87.47 374.76L77.1 386.86L79.91 380.05Z" fill="#6595e4"/><path d="M77.1 386.86L65.22 377.68L79.91 380.05Z" fill="#7eaaee"/><path d="M65.22 377.68L77.1 364.72L79.91 380.05Z" fill="#92bbf4"/><path d="M77.1 364.72L79.91 380.05L77.1 386.86M65.22 377.68L79.91 380.05L87.47 374.76M77.1 364.72L87.47 374.76L77.1 386.86L65.22 377.68Z" fill="none" stroke="#4a7ad8" stroke-width="0.45" stroke-opacity="0.8"/><circle cx="78.4" cy="375.3" r="3" fill="url(#gMo)"/><circle cx="77.1" cy="364.72" r="1.6" fill="url(#gO)"/><circle cx="77.1" cy="386.86" r="1.6" fill="url(#gO)"/><circle cx="65.22" cy="377.68" r="1.6" fill="url(#gO)"/><circle cx="87.47" cy="374.76" r="1.6" fill="url(#gO)"/><circle cx="79.91" cy="380.05" r="1.6" fill="url(#gO)"/>
<circle cx="79.88" cy="378.46" r="1.4" fill="#2a5ad0"/><path d="M84.2 371.12L94.57 381.16L84.2 393.26L72.32 384.08Z" fill="#98bff4" fill-opacity="0.92"/><path d="M84.2 371.12L94.57 381.16L87.01 386.45Z" fill="#aecdf8"/><path d="M94.57 381.16L84.2 393.26L87.01 386.45Z" fill="#6595e4"/><path d="M84.2 393.26L72.32 384.08L87.01 386.45Z" fill="#7eaaee"/><path d="M72.32 384.08L84.2 371.12L87.01 386.45Z" fill="#92bbf4"/><path d="M84.2 371.12L87.01 386.45L84.2 393.26M72.32 384.08L87.01 386.45L94.57 381.16M84.2 371.12L94.57 381.16L84.2 393.26L72.32 384.08Z" fill="none" stroke="#4a7ad8" stroke-width="0.45" stroke-opacity="0.8"/><circle cx="85.5" cy="381.7" r="3" fill="url(#gMo)"/><circle cx="84.2" cy="371.12" r="1.6" fill="url(#gO)"/><circle cx="84.2" cy="393.26" r="1.6" fill="url(#gO)"/><circle cx="72.32" cy="384.08" r="1.6" fill="url(#gO)"/><circle cx="94.57" cy="381.16" r="1.6" fill="url(#gO)"/><circle cx="87.01" cy="386.45" r="1.6" fill="url(#gO)"/>
<circle cx="87.38" cy="385.16" r="1.4" fill="#2a5ad0"/><path d="M91.7 377.82L102.07 387.86L91.7 399.96L79.82 390.78Z" fill="#98bff4" fill-opacity="0.92"/><path d="M91.7 377.82L102.07 387.86L94.51 393.15Z" fill="#aecdf8"/><path d="M102.07 387.86L91.7 399.96L94.51 393.15Z" fill="#6595e4"/><path d="M91.7 399.96L79.82 390.78L94.51 393.15Z" fill="#7eaaee"/><path d="M79.82 390.78L91.7 377.82L94.51 393.15Z" fill="#92bbf4"/><path d="M91.7 377.82L94.51 393.15L91.7 399.96M79.82 390.78L94.51 393.15L102.07 387.86M91.7 377.82L102.07 387.86L91.7 399.96L79.82 390.78Z" fill="none" stroke="#4a7ad8" stroke-width="0.45" stroke-opacity="0.8"/><circle cx="93" cy="388.4" r="3" fill="url(#gMo)"/><circle cx="91.7" cy="377.82" r="1.6" fill="url(#gO)"/><circle cx="91.7" cy="399.96" r="1.6" fill="url(#gO)"/><circle cx="79.82" cy="390.78" r="1.6" fill="url(#gO)"/><circle cx="102.07" cy="387.86" r="1.6" fill="url(#gO)"/><circle cx="94.51" cy="393.15" r="1.6" fill="url(#gO)"/>
<circle cx="112.78" cy="393.36" r="1.4" fill="#2a5ad0"/><path d="M117.1 386.02L127.47 396.06L117.1 408.16L105.22 398.98Z" fill="#98bff4" fill-opacity="0.92"/><path d="M117.1 386.02L127.47 396.06L119.91 401.35Z" fill="#aecdf8"/><path d="M127.47 396.06L117.1 408.16L119.91 401.35Z" fill="#6595e4"/><path d="M117.1 408.16L105.22 398.98L119.91 401.35Z" fill="#7eaaee"/><path d="M105.22 398.98L117.1 386.02L119.91 401.35Z" fill="#92bbf4"/><path d="M117.1 386.02L119.91 401.35L117.1 408.16M105.22 398.98L119.91 401.35L127.47 396.06M117.1 386.02L127.47 396.06L117.1 408.16L105.22 398.98Z" fill="none" stroke="#4a7ad8" stroke-width="0.45" stroke-opacity="0.8"/><circle cx="118.4" cy="396.6" r="3" fill="url(#gMo)"/><circle cx="117.1" cy="386.02" r="1.6" fill="url(#gO)"/><circle cx="117.1" cy="408.16" r="1.6" fill="url(#gO)"/><circle cx="105.22" cy="398.98" r="1.6" fill="url(#gO)"/><circle cx="127.47" cy="396.06" r="1.6" fill="url(#gO)"/><circle cx="119.91" cy="401.35" r="1.6" fill="url(#gO)"/>
<circle cx="40.38" cy="378.06" r="1.4" fill="#2a5ad0"/><path d="M44.7 370.72L55.07 380.76L44.7 392.86L32.82 383.68Z" fill="#98bff4" fill-opacity="0.92"/><path d="M44.7 370.72L55.07 380.76L47.51 386.05Z" fill="#aecdf8"/><path d="M55.07 380.76L44.7 392.86L47.51 386.05Z" fill="#6595e4"/><path d="M44.7 392.86L32.82 383.68L47.51 386.05Z" fill="#7eaaee"/><path d="M32.82 383.68L44.7 370.72L47.51 386.05Z" fill="#92bbf4"/><path d="M44.7 370.72L47.51 386.05L44.7 392.86M32.82 383.68L47.51 386.05L55.07 380.76M44.7 370.72L55.07 380.76L44.7 392.86L32.82 383.68Z" fill="none" stroke="#4a7ad8" stroke-width="0.45" stroke-opacity="0.8"/><circle cx="46" cy="381.3" r="3" fill="url(#gMo)"/><circle cx="44.7" cy="370.72" r="1.6" fill="url(#gO)"/><circle cx="44.7" cy="392.86" r="1.6" fill="url(#gO)"/><circle cx="32.82" cy="383.68" r="1.6" fill="url(#gO)"/><circle cx="55.07" cy="380.76" r="1.6" fill="url(#gO)"/><circle cx="47.51" cy="386.05" r="1.6" fill="url(#gO)"/>
<circle cx="64.78" cy="390.26" r="1.4" fill="#2a5ad0"/><path d="M69.1 382.92L79.47 392.96L69.1 405.06L57.22 395.88Z" fill="#98bff4" fill-opacity="0.92"/><path d="M69.1 382.92L79.47 392.96L71.91 398.25Z" fill="#aecdf8"/><path d="M79.47 392.96L69.1 405.06L71.91 398.25Z" fill="#6595e4"/><path d="M69.1 405.06L57.22 395.88L71.91 398.25Z" fill="#7eaaee"/><path d="M57.22 395.88L69.1 382.92L71.91 398.25Z" fill="#92bbf4"/><path d="M69.1 382.92L71.91 398.25L69.1 405.06M57.22 395.88L71.91 398.25L79.47 392.96M69.1 382.92L79.47 392.96L69.1 405.06L57.22 395.88Z" fill="none" stroke="#4a7ad8" stroke-width="0.45" stroke-opacity="0.8"/><circle cx="70.4" cy="393.5" r="3" fill="url(#gMo)"/><circle cx="69.1" cy="382.92" r="1.6" fill="url(#gO)"/><circle cx="69.1" cy="405.06" r="1.6" fill="url(#gO)"/><circle cx="57.22" cy="395.88" r="1.6" fill="url(#gO)"/><circle cx="79.47" cy="392.96" r="1.6" fill="url(#gO)"/><circle cx="71.91" cy="398.25" r="1.6" fill="url(#gO)"/>
<circle cx="156.3" cy="263" r="3.8" fill="url(#gPink)"/>
<circle cx="102.5" cy="252.2" r="3.8" fill="url(#gPink)"/>
<circle cx="152.1" cy="274.1" r="3.8" fill="url(#gPink)"/>
<circle cx="148.2" cy="278.8" r="3.8" fill="url(#gPink)"/>
<circle cx="97.5" cy="264.2" r="3.8" fill="url(#gPink)"/>
<circle cx="113.1" cy="273.7" r="3.8" fill="url(#gPink)"/>
<circle cx="58.9" cy="262.8" r="3.8" fill="url(#gPink)"/>
<circle cx="108.8" cy="278.3" r="3.8" fill="url(#gPink)"/>
<circle cx="145" cy="291.1" r="3.8" fill="url(#gPink)"/>
<circle cx="156.3" cy="304.2" r="3.8" fill="url(#gPink)"/>
<circle cx="105.6" cy="289.4" r="3.8" fill="url(#gPink)"/>
<circle cx="102.5" cy="293.4" r="3.8" fill="url(#gPink)"/>
<circle cx="66.4" cy="287.8" r="3.8" fill="url(#gPink)"/>
<circle cx="152.1" cy="315.3" r="3.8" fill="url(#gPink)"/>
<circle cx="148.2" cy="320" r="3.8" fill="url(#gPink)"/>
<circle cx="113.1" cy="314.9" r="3.8" fill="url(#gPink)"/>
<circle cx="58.9" cy="304" r="3.8" fill="url(#gPink)"/>
<circle cx="108.8" cy="319.5" r="3.8" fill="url(#gPink)"/>
<circle cx="145" cy="332.3" r="3.8" fill="url(#gPink)"/>
<circle cx="156.3" cy="345.4" r="3.8" fill="url(#gPink)"/>
<circle cx="105.6" cy="330.6" r="3.8" fill="url(#gPink)"/>
<circle cx="102.5" cy="334.6" r="3.8" fill="url(#gPink)"/>
<circle cx="66.4" cy="329" r="3.8" fill="url(#gPink)"/>
<circle cx="152.1" cy="356.5" r="3.8" fill="url(#gPink)"/>
<circle cx="148.2" cy="361.2" r="3.8" fill="url(#gPink)"/>
<circle cx="113.1" cy="356.1" r="3.8" fill="url(#gPink)"/>
<circle cx="58.9" cy="345.2" r="3.8" fill="url(#gPink)"/>
<circle cx="108.8" cy="360.7" r="3.8" fill="url(#gPink)"/>
<circle cx="145" cy="373.5" r="3.8" fill="url(#gPink)"/>
<circle cx="156.3" cy="386.6" r="3.8" fill="url(#gPink)"/>
<circle cx="105.6" cy="371.8" r="3.8" fill="url(#gPink)"/>
<circle cx="102.5" cy="375.8" r="3.8" fill="url(#gPink)"/>
<circle cx="66.4" cy="370.2" r="3.8" fill="url(#gPink)"/>
<circle cx="152.1" cy="397.7" r="3.8" fill="url(#gPink)"/>
<circle cx="113.1" cy="397.3" r="3.8" fill="url(#gPink)"/>
<circle cx="58.9" cy="386.4" r="3.8" fill="url(#gPink)"/>
<g stroke="#4a4a4a" stroke-width="0.8" fill="none" opacity="0.85"><path d="M36.9 288.1 L80.3 278.2"/><path d="M36.9 329.6 L130.5 342 L173.9 330.8"/><path d="M130.5 299.8 L130.5 342"/><path d="M36.9 288.1 L130.5 299.8 L173.9 289.9 L173.9 330.8"/></g>
<g stroke="#111" stroke-width="1" fill="none"><path d="M16.5 409.8 L16.5 392"/><path d="M16.5 409.8 L31.5 406.4"/><path d="M16.5 409.8 L39.5 412.7"/></g>
<g fill="#111"><path d="M16.5 389.8 L14.6 394.8 L18.4 394.8 Z"/><path d="M33.6 405.9 L28.6 405 L29.5 408.6 Z"/><path d="M41.4 413 L36.6 410.6 L36.2 414.4 Z"/></g>
<text x="12.6" y="389" font-size="12" font-style="italic" fill="#231f20">b</text>
<text x="34.4" y="407.2" font-size="12" font-style="italic" fill="#231f20">a</text>
<text x="42.3" y="417.3" font-size="12" font-style="italic" fill="#231f20">c</text>
<circle cx="32.7" cy="428.2" r="3.8" fill="url(#gPink)"/>
<text x="39.6" y="432.5" font-size="12" fill="#231f20"><tspan font-style="italic">A</tspan> = K, Rb, Tl</text>
<circle cx="137.3" cy="428.2" r="3.9" fill="#e8e800"/><circle cx="136.5" cy="427.2" r="1.8" fill="#fbfb90"/>
<text x="146.8" y="432.5" font-size="12" fill="#231f20">Mo</text>
<circle cx="183.4" cy="428.6" r="1.6" fill="url(#gO)"/>
<text x="186.6" y="432.5" font-size="12" fill="#231f20">O</text>
<filter id="bl1" x="-20%" y="-50%" width="140%" height="200%"><feGaussianBlur stdDeviation="1.6"/></filter>
<filter id="bl2" x="-20%" y="-50%" width="140%" height="200%"><feGaussianBlur stdDeviation="2.6"/></filter>
<filter id="bl05" x="-30%" y="-50%" width="160%" height="200%"><feGaussianBlur stdDeviation="0.7"/></filter>
<filter id="bl08" x="-30%" y="-30%" width="160%" height="160%"><feGaussianBlur stdDeviation="1.0"/></filter>
<filter id="bl4" x="-30%" y="-30%" width="160%" height="160%"><feGaussianBlur stdDeviation="4"/></filter>
<clipPath id="clipE"><rect x="250.5" y="284.3" width="118.3" height="119"/></clipPath>
<text x="225" y="239.7" font-size="12" font-weight="bold" fill="#000">e</text>
<g clip-path="url(#clipE)"><g filter="url(#bl2)">
<ellipse cx="262" cy="306" rx="15" ry="4.2" fill="#8f4f42" fill-opacity="0.8"/>
<ellipse cx="280" cy="304" rx="11" ry="3" fill="#8f4f42" fill-opacity="0.45"/>
<ellipse cx="292" cy="303" rx="8" ry="3" fill="#8f4f42" fill-opacity="0.3"/>
<ellipse cx="307" cy="308" rx="14" ry="4.3" fill="#8f4f42" fill-opacity="0.8"/>
<ellipse cx="330" cy="303.5" rx="15" ry="3.6" fill="#8f4f42" fill-opacity="0.42"/>
<ellipse cx="348" cy="302.5" rx="10" ry="3" fill="#8f4f42" fill-opacity="0.3"/>
<ellipse cx="360" cy="308.5" rx="10" ry="4.2" fill="#8f4f42" fill-opacity="0.95"/>
<ellipse cx="361" cy="308.6" rx="6" ry="2.6" fill="#8f4f42" fill-opacity="0.6"/>
<ellipse cx="290" cy="318.5" rx="19" ry="4" fill="#8f4f42" fill-opacity="0.38"/>
<ellipse cx="334" cy="319.5" rx="19" ry="4.6" fill="#8f4f42" fill-opacity="0.8"/>
<ellipse cx="256" cy="318" rx="9" ry="2.8" fill="#8f4f42" fill-opacity="0.25"/>
<ellipse cx="368" cy="317" rx="5" ry="4" fill="#8f4f42" fill-opacity="0.35"/>
<ellipse cx="312" cy="318" rx="8" ry="3" fill="#8f4f42" fill-opacity="0.25"/>
<ellipse cx="260" cy="378.5" rx="16" ry="4.2" fill="#8f4f42" fill-opacity="0.8"/>
<ellipse cx="278" cy="380.5" rx="9" ry="3" fill="#8f4f42" fill-opacity="0.35"/>
<ellipse cx="304" cy="378.5" rx="15" ry="4.3" fill="#8f4f42" fill-opacity="0.75"/>
<ellipse cx="339" cy="367.6" rx="17" ry="4.6" fill="#8f4f42" fill-opacity="0.8"/>
<ellipse cx="286" cy="366.7" rx="17" ry="4" fill="#8f4f42" fill-opacity="0.4"/>
<ellipse cx="262" cy="367" rx="9" ry="3" fill="#8f4f42" fill-opacity="0.25"/>
<ellipse cx="360" cy="378.5" rx="10" ry="4.2" fill="#8f4f42" fill-opacity="0.9"/>
<ellipse cx="357" cy="391" rx="10" ry="4" fill="#8f4f42" fill-opacity="0.35"/>
<ellipse cx="325" cy="383" rx="11" ry="3" fill="#8f4f42" fill-opacity="0.35"/>
<ellipse cx="345" cy="384.5" rx="9" ry="3" fill="#8f4f42" fill-opacity="0.3"/>
<ellipse cx="316" cy="366" rx="9" ry="3" fill="#8f4f42" fill-opacity="0.25"/>
<ellipse cx="367" cy="369" rx="5" ry="3" fill="#8f4f42" fill-opacity="0.3"/>
<ellipse cx="283" cy="305" rx="9" ry="3" fill="#8f4f42" fill-opacity="0.35"/>
<ellipse cx="300" cy="302" rx="6" ry="2.5" fill="#8f4f42" fill-opacity="0.3"/>
<ellipse cx="320" cy="305" rx="7" ry="3" fill="#8f4f42" fill-opacity="0.3"/>
<ellipse cx="270" cy="316" rx="8" ry="3" fill="#8f4f42" fill-opacity="0.25"/>
<ellipse cx="282" cy="380" rx="9" ry="3" fill="#8f4f42" fill-opacity="0.35"/>
<ellipse cx="320" cy="370" rx="8" ry="3" fill="#8f4f42" fill-opacity="0.3"/>
<ellipse cx="300" cy="367" rx="7" ry="3" fill="#8f4f42" fill-opacity="0.25"/>
</g>
<g filter="url(#bl08)"><ellipse cx="361.5" cy="308.6" rx="8" ry="2.6" fill="#c8a060" fill-opacity="0.8"/><ellipse cx="361.5" cy="308.6" rx="5.5" ry="1.6" fill="#faf6a0"/></g>
<g filter="url(#bl05)"><ellipse cx="260" cy="306.3" rx="2" ry="0.8" fill="#e0c070" fill-opacity="0.6"/><ellipse cx="360.5" cy="378.4" rx="4.5" ry="1.3" fill="#e0c870" fill-opacity="0.8"/></g>
</g>
<g stroke="#3c3c3c" stroke-width="0.8" fill="none"><path d="M250 301.6 L276.5 311.2 L305.2 300.6 L333.4 311.2 L361.4 300.6 L369.3 303.5"/><path d="M250 383.5 L276.5 374 L305.2 384.6 L333.4 374 L361.4 384.6 L369.3 381.7"/></g>
<g stroke="#8a8a8a" stroke-width="1.1" fill="none"><path d="M276.5 311.2 L276.5 374 M305.2 284 L305.2 300.6 M305.2 384.6 L305.2 403.5"/></g>
<g stroke="#fab22e" stroke-width="1.4" fill="none"><path d="M334.6 284 Q331.8 343 334.9 403.5"/><path d="M361.5 284 L361.5 403.5"/></g>
<g fill="#f0401e"><circle cx="333.3" cy="342.8" r="1.5"/><circle cx="361.5" cy="342.8" r="1.5"/><circle cx="333.4" cy="373.9" r="1.5"/><circle cx="361.5" cy="384.3" r="1.5"/></g>
<rect x="250" y="283.8" width="119.3" height="120" fill="none" stroke="#8a8a8a" stroke-width="1.2"/>
<path d="M258.3 403.2 v-2.3 M258.3 284.4 v2.3 M275.4 403.2 v-2.3 M275.4 284.4 v2.3 M292.4 403.2 v-2.3 M292.4 284.4 v2.3 M310.5 403.2 v-2.3 M310.5 284.4 v2.3 M327.6 403.2 v-2.3 M327.6 284.4 v2.3 M344.6 403.2 v-2.3 M344.6 284.4 v2.3 M361.7 403.2 v-2.3 M361.7 284.4 v2.3 M250.6 288.6 h2.3 M368.7 288.6 h-2.3 M250.6 306.6 h2.3 M368.7 306.6 h-2.3 M250.6 324.6 h2.3 M368.7 324.6 h-2.3 M250.6 342.6 h2.3 M368.7 342.6 h-2.3 M250.6 360.6 h2.3 M368.7 360.6 h-2.3 M250.6 378.6 h2.3 M368.7 378.6 h-2.3 M250.6 396.6 h2.3 M368.7 396.6 h-2.3" stroke="#333" stroke-width="0.9"/>
<text x="248.3" y="311" font-size="12" text-anchor="end" fill="#231f20">0.4</text>
<text x="248.3" y="347" font-size="12" text-anchor="end" fill="#231f20">0.0</text>
<text x="248.3" y="383" font-size="12" text-anchor="end" fill="#231f20">-0.4</text>
<text x="258.5" y="415.6" font-size="12" text-anchor="middle" fill="#231f20">-1.2</text>
<text x="292.6" y="415.6" font-size="12" text-anchor="middle" fill="#231f20">-0.8</text>
<text x="327.3" y="415.6" font-size="12" text-anchor="middle" fill="#231f20">-0.4</text>
<text x="361.6" y="415.6" font-size="12" text-anchor="middle" fill="#231f20">0.0</text>
<text x="295.2" y="431.4" font-size="12" fill="#231f20" textLength="33.9" lengthAdjust="spacing"><tspan font-style="italic">k</tspan><tspan font-size="8" dy="2.5">x</tspan><tspan dy="-2.5"> (Å</tspan><tspan font-size="8" dy="-4">-1</tspan><tspan dy="4">)</tspan></text>
<text transform="translate(224.1 359.8) rotate(-90)" font-size="12" fill="#231f20" textLength="34.6" lengthAdjust="spacing"><tspan font-style="italic">k</tspan><tspan font-size="8" dy="2.5">y</tspan><tspan dy="-2.5"> (Å</tspan><tspan font-size="8" dy="-4">-1</tspan><tspan dy="4">)</tspan></text>
<text x="258.5" y="296.5" font-size="12" fill="#231f20">80 K</text>
<text x="327.8" y="279.6" font-size="12" fill="#231f20">#2</text>
<text x="354.6" y="279.6" font-size="12" fill="#231f20">#1</text>
<text x="322.3" y="347.5" font-size="12" font-style="italic" fill="#231f20">X</text>
<line x1="324.2" y1="337.3" x2="331.5" y2="337.3" stroke="#231f20" stroke-width="0.9"/>
<text x="352.9" y="341" font-size="12" fill="#231f20" class="serif">Γ</text>
<line x1="353.3" y1="330.8" x2="360.4" y2="330.8" stroke="#231f20" stroke-width="0.9"/>
<text x="322.3" y="374" font-size="12" font-style="italic" fill="#231f20">Z</text>
<line x1="324.2" y1="363.8" x2="331.5" y2="363.8" stroke="#231f20" stroke-width="0.9"/>
<text x="352.6" y="395.6" font-size="12" font-style="italic" fill="#231f20">Y</text>
<line x1="354.5" y1="385.4" x2="361.5" y2="385.4" stroke="#231f20" stroke-width="0.9"/>
<linearGradient id="gCB" x1="0" y1="0" x2="0" y2="1"><stop offset="0" stop-color="#f8fa7c"/><stop offset="0.1" stop-color="#e4d490"/><stop offset="0.22" stop-color="#a27060"/><stop offset="0.38" stop-color="#8e5c50"/><stop offset="0.65" stop-color="#c8a8a0"/><stop offset="0.85" stop-color="#eee0de"/><stop offset="1" stop-color="#fdf8f8"/></linearGradient>
<rect x="384.6" y="313.6" width="8.6" height="47.1" fill="url(#gCB)"/>
<text x="378.2" y="301" font-size="12" fill="#231f20">High</text>
<text x="378.8" y="385" font-size="12" fill="#231f20">Low</text>
<text x="429.8" y="238.9" font-size="12" font-weight="bold" fill="#000">f</text>
<clipPath id="clipF"><rect x="460.3" y="280.6" width="106.7" height="131"/></clipPath>
<linearGradient id="gArm" x1="0" y1="284" x2="0" y2="412" gradientUnits="userSpaceOnUse"><stop offset="0" stop-color="#7e4034"/><stop offset="0.25" stop-color="#8e5246"/><stop offset="0.55" stop-color="#b08278" stop-opacity="0.65"/><stop offset="1" stop-color="#ccb0ac" stop-opacity="0.35"/></linearGradient>
<linearGradient id="gArmH" x1="0" y1="284" x2="0" y2="412" gradientUnits="userSpaceOnUse"><stop offset="0" stop-color="#a8706a" stop-opacity="0.75"/><stop offset="0.4" stop-color="#bc8a82" stop-opacity="0.55"/><stop offset="1" stop-color="#dac0bc" stop-opacity="0.4"/></linearGradient>
<g clip-path="url(#clipF)">
<g filter="url(#bl4)">
<rect x="468" y="282" width="92" height="135" fill="#f2e8e6"/>
<ellipse cx="513" cy="310" rx="19" ry="19" fill="#e2d0cc" fill-opacity="0.8"/>
<ellipse cx="513" cy="385" rx="14" ry="40" fill="#eadcd9" fill-opacity="0.7"/>
<rect x="458" y="286" width="14" height="70" fill="#f2e6e4"/>
<rect x="556" y="286" width="14" height="70" fill="#f2e6e4"/>
</g>
<path d="M476.09 286.39 L475.82 287.27 L475.6 288.39 L475.42 289.69 L475.27 291.14 L475.13 292.69 L475.01 294.3 L474.88 295.91 L474.74 297.49 L474.96 299.01 L475.19 300.64 L475.43 302.36 L475.68 304.15 L475.94 305.96 L476.21 307.79 L476.49 309.6 L476.78 311.35 L477.21 313.01 L477.64 314.61 L478.07 316.15 L478.51 317.66 L478.94 319.14 L479.38 320.59 L479.81 322.03 L480.25 323.47 L480.66 324.87 L481.06 326.19 L481.46 327.48 L481.86 328.8 L482.29 330.19 L482.76 331.71 L483.28 333.39 L483.88 335.32 L484.57 337.52 L485.34 339.94 L486.16 342.49 L487.01 345.14 L487.87 347.84 L488.7 350.54 L489.49 353.17 L490.21 355.71 L490.89 358.2 L491.55 360.68 L492.18 363.14 L492.78 365.59 L493.37 368.06 L493.93 370.57 L494.47 373.13 L494.99 375.76 L495.49 378.53 L495.98 381.46 L496.45 384.5 L496.9 387.58 L497.33 390.62 L497.73 393.57 L498.1 396.36 L498.43 398.9 L498.66 401.28 L498.85 403.61 L499.01 405.86 L499.15 407.99 L499.26 409.95 L499.36 411.69 L499.44 413.19 L499.51 414.37 L511.49 413.63 L511.42 412.49 L511.34 411.04 L511.24 409.27 L511.13 407.26 L510.99 405.05 L510.82 402.69 L510.61 400.21 L510.37 397.7 L510.15 395.06 L509.9 392.21 L509.62 389.18 L509.31 386.05 L508.97 382.87 L508.61 379.7 L508.22 376.6 L507.81 373.64 L507.39 370.81 L506.94 368.07 L506.47 365.39 L505.98 362.75 L505.47 360.13 L504.93 357.54 L504.37 354.93 L503.79 352.29 L503.14 349.53 L502.43 346.7 L501.68 343.85 L500.92 341.05 L500.18 338.33 L499.49 335.76 L498.86 333.4 L498.32 331.28 L497.87 329.41 L497.49 327.75 L497.16 326.26 L496.86 324.9 L496.59 323.6 L496.33 322.31 L496.05 320.97 L495.75 319.53 L495.44 318.03 L495.12 316.56 L494.82 315.1 L494.52 313.66 L494.23 312.23 L493.95 310.79 L493.68 309.33 L493.42 307.85 L493.04 306.32 L492.67 304.71 L492.3 303.01 L491.92 301.28 L491.55 299.53 L491.19 297.8 L490.82 296.12 L490.46 294.51 L489.73 293.02 L488.99 291.53 L488.25 290.06 L487.52 288.66 L486.81 287.37 L486.13 286.24 L485.5 285.31 L484.91 284.61 Z" fill="url(#gArmH)" filter="url(#bl2)"/>
<path d="M478.05 285.99 L478.03 286.82 L478.05 287.89 L478.12 289.14 L478.21 290.54 L478.32 292.05 L478.44 293.62 L478.56 295.2 L478.67 296.74 L478.92 298.29 L479.19 299.93 L479.46 301.66 L479.74 303.43 L480.03 305.23 L480.32 307.02 L480.63 308.78 L480.94 310.48 L481.32 312.09 L481.71 313.65 L482.11 315.17 L482.51 316.66 L482.91 318.13 L483.32 319.58 L483.72 321.03 L484.12 322.48 L484.54 323.88 L484.94 325.2 L485.33 326.49 L485.73 327.79 L486.16 329.17 L486.62 330.67 L487.14 332.34 L487.73 334.24 L488.44 336.41 L489.24 338.79 L490.09 341.33 L490.97 343.98 L491.86 346.69 L492.74 349.41 L493.57 352.08 L494.33 354.67 L495 357.21 L495.65 359.72 L496.27 362.21 L496.86 364.71 L497.44 367.23 L497.99 369.79 L498.52 372.41 L499.03 375.09 L499.51 377.92 L499.97 380.91 L500.41 383.99 L500.82 387.09 L501.22 390.17 L501.58 393.14 L501.91 395.95 L502.21 398.52 L502.44 400.94 L502.64 403.32 L502.81 405.6 L502.94 407.76 L503.06 409.73 L503.15 411.48 L503.23 412.97 L503.3 414.14 L507.7 413.86 L507.62 412.72 L507.54 411.24 L507.45 409.49 L507.33 407.49 L507.19 405.31 L507.03 402.98 L506.83 400.55 L506.59 398.08 L506.34 395.47 L506.05 392.64 L505.74 389.64 L505.39 386.53 L505.02 383.38 L504.62 380.26 L504.2 377.21 L503.77 374.31 L503.33 371.54 L502.88 368.85 L502.4 366.22 L501.9 363.63 L501.38 361.06 L500.83 358.5 L500.26 355.93 L499.67 353.33 L499.06 350.62 L498.39 347.82 L497.69 345 L496.97 342.21 L496.26 339.5 L495.59 336.91 L494.99 334.52 L494.47 332.36 L494.01 330.46 L493.62 328.78 L493.29 327.28 L492.99 325.91 L492.72 324.59 L492.45 323.29 L492.18 321.95 L491.88 320.52 L491.53 319.03 L491.19 317.56 L490.85 316.11 L490.51 314.66 L490.19 313.21 L489.87 311.74 L489.56 310.25 L489.26 308.72 L488.9 307.14 L488.55 305.48 L488.21 303.75 L487.86 302 L487.52 300.24 L487.19 298.51 L486.86 296.84 L486.53 295.26 L486.05 293.74 L485.55 292.21 L485.06 290.7 L484.58 289.26 L484.12 287.92 L483.69 286.74 L483.29 285.75 L482.95 285.01 Z" fill="url(#gArm)" filter="url(#bl1)"/>
<path d="M541.78 284.67 L541.2 285.38 L540.58 286.33 L539.92 287.46 L539.23 288.74 L538.53 290.13 L537.81 291.57 L537.08 293.02 L536.35 294.45 L535.98 295.99 L535.59 297.63 L535.19 299.33 L534.77 301.07 L534.35 302.81 L533.93 304.52 L533.51 306.18 L533.1 307.75 L532.82 309.28 L532.54 310.77 L532.25 312.24 L531.96 313.69 L531.66 315.13 L531.36 316.58 L531.06 318.05 L530.75 319.52 L530.45 320.92 L530.17 322.22 L529.89 323.5 L529.6 324.83 L529.28 326.24 L528.94 327.8 L528.55 329.53 L528.13 331.47 L527.64 333.65 L527.1 336.05 L526.52 338.64 L525.9 341.36 L525.28 344.16 L524.67 346.99 L524.09 349.8 L523.56 352.53 L523.07 355.17 L522.6 357.76 L522.16 360.35 L521.74 362.95 L521.33 365.56 L520.93 368.22 L520.55 370.93 L520.17 373.72 L519.8 376.64 L519.43 379.71 L519.07 382.86 L518.73 386.03 L518.41 389.16 L518.11 392.18 L517.85 395.04 L517.63 397.69 L517.39 400.21 L517.18 402.69 L517.01 405.05 L516.87 407.26 L516.76 409.27 L516.66 411.04 L516.58 412.49 L516.51 413.63 L528.49 414.37 L528.56 413.19 L528.64 411.69 L528.74 409.95 L528.85 407.99 L528.99 405.86 L529.15 403.61 L529.34 401.28 L529.57 398.91 L529.9 396.37 L530.28 393.59 L530.69 390.64 L531.13 387.59 L531.59 384.51 L532.06 381.45 L532.54 378.49 L533.03 375.68 L533.51 373.02 L534 370.42 L534.5 367.89 L535.01 365.39 L535.54 362.92 L536.09 360.45 L536.66 357.97 L537.24 355.47 L537.87 352.9 L538.55 350.24 L539.26 347.53 L539.98 344.83 L540.71 342.18 L541.41 339.65 L542.07 337.28 L542.67 335.13 L543.21 333.27 L543.69 331.66 L544.14 330.21 L544.56 328.87 L544.98 327.58 L545.39 326.28 L545.82 324.92 L546.25 323.48 L546.69 322.01 L547.12 320.56 L547.55 319.11 L547.98 317.64 L548.41 316.15 L548.84 314.63 L549.27 313.06 L549.7 311.45 L550.01 309.75 L550.32 307.98 L550.63 306.17 L550.94 304.36 L551.24 302.56 L551.53 300.81 L551.8 299.14 L552.05 297.55 L551.92 295.92 L551.8 294.26 L551.67 292.62 L551.52 291.06 L551.34 289.6 L551.14 288.3 L550.9 287.2 L550.62 286.33 Z" fill="url(#gArmH)" filter="url(#bl2)"/>
<path d="M543.74 285.04 L543.41 285.79 L543.03 286.79 L542.62 287.97 L542.18 289.3 L541.72 290.73 L541.24 292.23 L540.76 293.74 L540.28 295.22 L539.94 296.78 L539.57 298.43 L539.2 300.14 L538.81 301.89 L538.42 303.65 L538.03 305.38 L537.64 307.07 L537.25 308.67 L536.93 310.22 L536.61 311.73 L536.29 313.21 L535.96 314.67 L535.64 316.13 L535.3 317.58 L534.96 319.04 L534.62 320.51 L534.32 321.93 L534.04 323.25 L533.75 324.55 L533.46 325.87 L533.15 327.28 L532.81 328.81 L532.43 330.52 L532.01 332.45 L531.55 334.63 L531.04 337.04 L530.49 339.63 L529.91 342.35 L529.32 345.13 L528.75 347.95 L528.21 350.73 L527.71 353.42 L527.21 356.02 L526.74 358.59 L526.28 361.14 L525.84 363.7 L525.42 366.29 L525.01 368.91 L524.62 371.59 L524.23 374.34 L523.82 377.23 L523.42 380.26 L523.03 383.38 L522.65 386.53 L522.29 389.63 L521.96 392.63 L521.67 395.46 L521.41 398.08 L521.17 400.55 L520.97 402.98 L520.81 405.31 L520.67 407.49 L520.55 409.49 L520.46 411.24 L520.38 412.72 L520.3 413.86 L524.7 414.14 L524.77 412.97 L524.85 411.48 L524.94 409.73 L525.06 407.76 L525.19 405.6 L525.36 403.32 L525.56 400.94 L525.79 398.52 L526.09 395.95 L526.43 393.15 L526.81 390.17 L527.21 387.1 L527.64 383.99 L528.08 380.9 L528.52 377.91 L528.97 375.06 L529.44 372.36 L529.92 369.73 L530.41 367.17 L530.91 364.64 L531.42 362.13 L531.96 359.63 L532.51 357.11 L533.09 354.58 L533.76 351.98 L534.47 349.29 L535.22 346.56 L535.98 343.84 L536.73 341.19 L537.47 338.66 L538.16 336.29 L538.79 334.15 L539.33 332.28 L539.82 330.64 L540.27 329.18 L540.7 327.83 L541.12 326.53 L541.53 325.25 L541.95 323.91 L542.38 322.49 L542.78 321.02 L543.18 319.57 L543.58 318.11 L543.97 316.65 L544.37 315.17 L544.76 313.66 L545.15 312.12 L545.55 310.53 L545.88 308.85 L546.22 307.11 L546.56 305.33 L546.9 303.54 L547.23 301.76 L547.54 300.02 L547.84 298.35 L548.12 296.78 L548.24 295.2 L548.36 293.6 L548.47 292.02 L548.57 290.5 L548.64 289.1 L548.69 287.84 L548.69 286.78 L548.66 285.96 Z" fill="url(#gArm)" filter="url(#bl1)"/>
<path d="M477.85 293.99 L477.84 294.59 L477.89 295.33 L477.97 296.18 L478.07 297.1 L478.18 298.08 L478.29 299.09 L478.37 300.11 L478.43 301.11 L478.68 302.12 L478.93 303.23 L479.18 304.43 L479.43 305.67 L479.69 306.95 L479.93 308.24 L480.18 309.53 L480.42 310.78 L480.67 312 L480.91 313.23 L481.15 314.5 L481.39 315.78 L481.63 317.06 L481.89 318.34 L482.15 319.6 L482.43 320.83 L482.78 321.99 L483.14 323.13 L483.51 324.23 L483.89 325.29 L484.26 326.3 L484.63 327.25 L484.99 328.15 L485.35 328.98 L485.73 329.78 L486.12 330.54 L486.51 331.23 L486.89 331.84 L487.24 332.36 L487.56 332.8 L487.84 333.14 L488.07 333.39 L492.53 331.61 L492.51 331.22 L492.44 330.75 L492.36 330.23 L492.26 329.66 L492.16 329.06 L492.05 328.41 L491.95 327.74 L491.85 327.02 L491.73 326.22 L491.59 325.33 L491.45 324.39 L491.3 323.4 L491.15 322.37 L491.01 321.32 L490.88 320.25 L490.77 319.17 L490.62 318.09 L490.47 316.94 L490.33 315.73 L490.2 314.47 L490.06 313.18 L489.91 311.86 L489.75 310.53 L489.58 309.22 L489.38 307.93 L489.17 306.62 L488.95 305.29 L488.73 303.95 L488.5 302.63 L488.26 301.34 L488.02 300.09 L487.77 298.89 L487.29 297.76 L486.79 296.66 L486.29 295.61 L485.79 294.65 L485.32 293.79 L484.87 293.04 L484.48 292.45 L484.15 292.01 Z" fill="#b08a60" filter="url(#bl1)"/>
<path d="M479.28 293.54 L479.27 294.13 L479.32 294.87 L479.4 295.71 L479.5 296.65 L479.62 297.64 L479.73 298.68 L479.82 299.73 L479.89 300.76 L480.14 301.8 L480.4 302.94 L480.65 304.14 L480.91 305.4 L481.16 306.68 L481.41 307.98 L481.66 309.28 L481.9 310.53 L482.15 311.76 L482.4 313.01 L482.64 314.28 L482.88 315.56 L483.12 316.84 L483.37 318.1 L483.63 319.34 L483.9 320.53 L484.25 321.68 L484.61 322.79 L484.97 323.87 L485.34 324.92 L485.71 325.91 L486.08 326.86 L486.43 327.73 L486.78 328.55 L487.15 329.32 L487.53 330.03 L487.91 330.69 L488.28 331.27 L488.62 331.79 L488.94 332.22 L489.22 332.57 L489.46 332.83 L491.14 332.17 L491.12 331.79 L491.06 331.33 L490.98 330.81 L490.87 330.23 L490.76 329.59 L490.64 328.92 L490.52 328.21 L490.42 327.45 L490.29 326.63 L490.15 325.73 L490 324.77 L489.85 323.77 L489.7 322.73 L489.55 321.65 L489.42 320.56 L489.3 319.47 L489.14 318.35 L488.99 317.18 L488.85 315.96 L488.71 314.69 L488.57 313.4 L488.43 312.09 L488.27 310.77 L488.1 309.47 L487.9 308.18 L487.69 306.88 L487.47 305.55 L487.25 304.23 L487.03 302.92 L486.79 301.64 L486.56 300.41 L486.31 299.24 L485.84 298.14 L485.35 297.07 L484.85 296.05 L484.36 295.1 L483.89 294.25 L483.45 293.51 L483.06 292.91 L482.72 292.46 Z" fill="#d8c878" filter="url(#bl08)"/>
<path d="M480.01 293.31 L480.03 293.88 L480.11 294.61 L480.23 295.44 L480.37 296.37 L480.52 297.37 L480.67 298.41 L480.81 299.47 L480.92 300.52 L481.17 301.58 L481.43 302.73 L481.68 303.94 L481.94 305.21 L482.19 306.5 L482.43 307.8 L482.68 309.1 L482.91 310.36 L483.16 311.6 L483.4 312.85 L483.63 314.13 L483.85 315.41 L484.09 316.69 L484.32 317.94 L484.57 319.17 L484.83 320.35 L485.16 321.48 L485.49 322.59 L485.83 323.66 L486.18 324.7 L486.53 325.7 L486.87 326.64 L487.2 327.51 L487.53 328.32 L487.87 329.08 L488.22 329.79 L488.57 330.44 L488.91 331.02 L489.23 331.53 L489.52 331.98 L489.78 332.34 L490 332.62 L490.6 332.38 L490.56 332.02 L490.48 331.57 L490.37 331.06 L490.24 330.48 L490.1 329.85 L489.95 329.17 L489.81 328.44 L489.67 327.68 L489.52 326.85 L489.36 325.95 L489.18 324.99 L489.01 323.98 L488.84 322.94 L488.67 321.86 L488.51 320.76 L488.37 319.65 L488.19 318.52 L488.03 317.34 L487.88 316.11 L487.73 314.84 L487.58 313.54 L487.43 312.24 L487.26 310.93 L487.09 309.64 L486.88 308.36 L486.67 307.06 L486.45 305.74 L486.22 304.42 L486 303.12 L485.76 301.85 L485.52 300.64 L485.28 299.48 L484.85 298.4 L484.4 297.34 L483.95 296.33 L483.49 295.38 L483.06 294.52 L482.66 293.77 L482.3 293.16 L481.99 292.69 Z" fill="#f6f2a6" filter="url(#bl08)"/>
<path d="M541.76 292.68 L541.49 293.14 L541.2 293.75 L540.89 294.46 L540.55 295.27 L540.2 296.16 L539.84 297.1 L539.47 298.07 L539.1 299.06 L538.9 300.13 L538.68 301.3 L538.44 302.54 L538.18 303.83 L537.93 305.15 L537.67 306.49 L537.42 307.83 L537.18 309.14 L536.98 310.44 L536.79 311.74 L536.62 313.01 L536.45 314.27 L536.28 315.52 L536.11 316.75 L535.93 317.96 L535.73 319.19 L535.55 320.48 L535.37 321.79 L535.19 323.09 L535 324.36 L534.81 325.59 L534.6 326.76 L534.38 327.85 L534.15 328.83 L533.93 329.8 L533.63 330.82 L533.27 331.87 L532.89 332.91 L532.51 333.9 L532.16 334.81 L531.87 335.62 L531.68 336.27 L535.92 338.53 L536.32 338.07 L536.84 337.45 L537.45 336.66 L538.12 335.74 L538.83 334.71 L539.54 333.59 L540.23 332.4 L540.85 331.17 L541.33 329.9 L541.77 328.61 L542.16 327.29 L542.53 325.96 L542.88 324.64 L543.22 323.33 L543.54 322.06 L543.87 320.81 L544.17 319.54 L544.45 318.25 L544.72 316.98 L544.98 315.73 L545.23 314.49 L545.49 313.26 L545.75 312.06 L546.02 310.86 L546.29 309.63 L546.58 308.35 L546.88 307.06 L547.18 305.76 L547.48 304.48 L547.77 303.24 L548.05 302.05 L548.3 300.94 L548.35 299.84 L548.38 298.77 L548.4 297.74 L548.41 296.78 L548.4 295.89 L548.37 295.11 L548.32 294.45 L548.24 293.92 Z" fill="#b08a60" filter="url(#bl1)"/>
<path d="M543.23 292.96 L542.97 293.42 L542.67 294.03 L542.36 294.74 L542.03 295.56 L541.68 296.44 L541.31 297.39 L540.94 298.37 L540.56 299.36 L540.37 300.44 L540.14 301.61 L539.9 302.85 L539.65 304.14 L539.39 305.47 L539.14 306.8 L538.89 308.13 L538.65 309.43 L538.46 310.72 L538.27 312 L538.1 313.27 L537.93 314.52 L537.76 315.77 L537.58 317.01 L537.4 318.24 L537.2 319.48 L537.02 320.77 L536.84 322.08 L536.66 323.39 L536.47 324.67 L536.27 325.93 L536.06 327.13 L535.82 328.27 L535.57 329.32 L535.32 330.37 L534.99 331.46 L534.61 332.56 L534.21 333.62 L533.82 334.63 L533.46 335.55 L533.18 336.34 L533.01 336.98 L534.59 337.82 L535.01 337.35 L535.53 336.71 L536.14 335.93 L536.8 335.03 L537.49 334.03 L538.18 332.95 L538.84 331.83 L539.43 330.68 L539.9 329.48 L540.32 328.23 L540.7 326.95 L541.07 325.65 L541.41 324.34 L541.75 323.04 L542.07 321.77 L542.4 320.52 L542.69 319.26 L542.97 317.99 L543.24 316.73 L543.5 315.48 L543.75 314.23 L544.01 313 L544.27 311.78 L544.55 310.57 L544.82 309.33 L545.11 308.05 L545.41 306.74 L545.71 305.44 L546.01 304.17 L546.3 302.93 L546.58 301.74 L546.84 300.64 L546.88 299.55 L546.91 298.48 L546.93 297.46 L546.94 296.49 L546.93 295.61 L546.9 294.83 L546.85 294.16 L546.77 293.64 Z" fill="#d8c878" filter="url(#bl08)"/>
<path d="M543.98 293.1 L543.75 293.57 L543.49 294.18 L543.21 294.9 L542.91 295.72 L542.59 296.62 L542.27 297.57 L541.93 298.56 L541.58 299.57 L541.38 300.65 L541.15 301.83 L540.9 303.07 L540.65 304.36 L540.39 305.68 L540.13 307.01 L539.87 308.33 L539.64 309.62 L539.43 310.89 L539.24 312.17 L539.06 313.43 L538.88 314.69 L538.7 315.94 L538.52 317.18 L538.32 318.42 L538.11 319.66 L537.92 320.95 L537.72 322.25 L537.53 323.56 L537.32 324.85 L537.1 326.12 L536.87 327.34 L536.61 328.51 L536.33 329.59 L536.04 330.67 L535.67 331.78 L535.26 332.88 L534.82 333.95 L534.4 334.96 L534.02 335.86 L533.71 336.64 L533.52 337.25 L534.08 337.55 L534.48 337.06 L534.98 336.4 L535.56 335.61 L536.19 334.7 L536.85 333.7 L537.5 332.63 L538.12 331.53 L538.67 330.41 L539.1 329.24 L539.5 328.02 L539.87 326.76 L540.22 325.47 L540.55 324.17 L540.86 322.87 L541.17 321.59 L541.49 320.34 L541.77 319.08 L542.04 317.82 L542.3 316.56 L542.55 315.31 L542.79 314.07 L543.04 312.83 L543.3 311.61 L543.56 310.38 L543.83 309.13 L544.12 307.84 L544.42 306.53 L544.71 305.23 L545.01 303.95 L545.3 302.71 L545.57 301.53 L545.82 300.43 L545.89 299.35 L545.96 298.3 L546.01 297.28 L546.05 296.33 L546.08 295.45 L546.08 294.67 L546.06 294.02 L546.02 293.5 Z" fill="#f6f2a6" filter="url(#bl08)"/>
<ellipse cx="542.4" cy="306" rx="1.2" ry="5.5" transform="rotate(14 542.4 306)" fill="#b0eaa0" fill-opacity="0.85" filter="url(#bl05)"/>
</g>
<g stroke="#555" stroke-width="0.9" stroke-dasharray="4 2.6"><line x1="473" y1="281" x2="473" y2="411.5"/><line x1="554.4" y1="281" x2="554.4" y2="411.5"/></g>
<rect x="460" y="266" width="107.3" height="146" fill="none" stroke="#8a8a8a" stroke-width="1.1"/>
<line x1="460" y1="280.1" x2="567.3" y2="280.1" stroke="#8a8a8a" stroke-width="1.1"/>
<line x1="567.4" y1="266" x2="567.4" y2="412" stroke="#555" stroke-width="1"/>
<path d="M464.6 411.4 v-2.3 M464.6 266.6 v2.3 M480.9 411.4 v-2.3 M480.9 266.6 v2.3 M497 411.4 v-2.3 M497 266.6 v2.3 M513.3 411.4 v-2.3 M513.3 266.6 v2.3 M529.6 411.4 v-2.3 M529.6 266.6 v2.3 M545.9 411.4 v-2.3 M545.9 266.6 v2.3 M562.2 411.4 v-2.3 M562.2 266.6 v2.3 M460.6 298.9 h2.3 M566.8 298.9 h-2.3 M460.6 317.7 h2.3 M566.8 317.7 h-2.3 M460.6 336.5 h2.3 M566.8 336.5 h-2.3 M460.6 355.3 h2.3 M566.8 355.3 h-2.3 M460.6 374.1 h2.3 M566.8 374.1 h-2.3 M460.6 392.9 h2.3 M566.8 392.9 h-2.3" stroke="#333" stroke-width="0.9"/>
<text x="456.8" y="283.2" font-size="12" text-anchor="end" fill="#231f20">0.0</text>
<text x="456.8" y="321.2" font-size="12" text-anchor="end" fill="#231f20">-0.4</text>
<text x="456.8" y="359" font-size="12" text-anchor="end" fill="#231f20">-0.8</text>
<text x="456.8" y="396.8" font-size="12" text-anchor="end" fill="#231f20">-1.2</text>
<text x="480.5" y="425.4" font-size="12" text-anchor="middle" fill="#231f20">-0.4</text>
<text x="513.6" y="425.4" font-size="12" text-anchor="middle" fill="#231f20">0.0</text>
<text x="546.4" y="425.4" font-size="12" text-anchor="middle" fill="#231f20">0.4</text>
<text x="502.3" y="438.8" font-size="12" fill="#231f20" textLength="35.6" lengthAdjust="spacing"><tspan font-style="italic">k</tspan><tspan font-size="8" dy="2.5">y</tspan><tspan dy="-2.5"> (Å</tspan><tspan font-size="8" dy="-4">-1</tspan><tspan dy="4">)</tspan></text>
<text transform="translate(428.1 365.8) rotate(-90)" font-size="12" fill="#231f20" textLength="55.2" lengthAdjust="spacing"><tspan font-style="italic">E</tspan> - <tspan font-style="italic">E</tspan><tspan font-size="8" dy="2.5">F</tspan><tspan dy="-2.5"> (eV)</tspan></text>
<text x="463.4" y="277.4" font-size="12" fill="#231f20">#1</text>
<text x="534.4" y="277.4" font-size="12" fill="#231f20">80 K</text>
<text x="498.2" y="289" font-size="12" fill="#231f20"><tspan font-style="italic">B</tspan> band</text>
<g stroke="#222" stroke-width="0.8"><line x1="498" y1="292.4" x2="487" y2="300.6"/><line x1="529.8" y1="292.4" x2="540.6" y2="300.6"/></g>
<text x="466.8" y="262.8" font-size="12" fill="#231f20">Y</text>
<line x1="467.2" y1="251.6" x2="475.2" y2="251.6" stroke="#231f20" stroke-width="0.9"/>
<text x="510.8" y="262.8" font-size="12" fill="#231f20" class="serif">Γ</text>
<line x1="511" y1="251.6" x2="518" y2="251.6" stroke="#231f20" stroke-width="0.9"/>
<text x="554.4" y="262.8" font-size="12" fill="#231f20">Y</text>
<line x1="554.2" y1="251.6" x2="562.4" y2="251.6" stroke="#231f20" stroke-width="0.9"/>
<g stroke="#231f20" stroke-width="0.9"><line x1="482.5" y1="259.2" x2="506" y2="259.2"/><line x1="520.4" y1="259.2" x2="544" y2="259.2"/></g>
<g fill="#231f20"><path d="M480.4 259.2 L487.3 256.6 L485.8 259.2 L487.3 261.8 Z"/><path d="M545.8 259.2 L538.9 256.6 L540.4 259.2 L538.9 261.8 Z"/></g>
<text x="572.6" y="238.9" font-size="12" font-weight="bold" fill="#000">g</text>
<linearGradient id="gWing" x1="0" y1="288" x2="0" y2="345" gradientUnits="userSpaceOnUse"><stop offset="0" stop-color="#a46e64" stop-opacity="0.85"/><stop offset="1" stop-color="#c8a49e" stop-opacity="0.2"/></linearGradient>
<clipPath id="clipG"><rect x="577" y="280.7" width="106.4" height="130.6"/></clipPath>
<g clip-path="url(#clipG)">
<g filter="url(#bl4)">
<rect x="572" y="282" width="116" height="135" fill="#f7f0ef"/>
<rect x="600" y="300" width="60" height="120" fill="#ecdcd9"/>
</g>
<g filter="url(#bl4)">
<ellipse cx="592" cy="300" rx="9" ry="14" fill="#c8a09a" fill-opacity="0.45"/>
<ellipse cx="669" cy="300" rx="9" ry="14" fill="#c8a09a" fill-opacity="0.45"/>
<rect x="600" y="330" width="60" height="90" fill="#eee0de" fill-opacity="0.6"/>
</g>
<g filter="url(#bl2)" fill="none" stroke-linecap="round">
<path d="M604 322 Q605 360 607 412" stroke="#caa6a0" stroke-opacity="0.45" stroke-width="6"/>
<path d="M656 322 Q655 360 653 412" stroke="#caa6a0" stroke-opacity="0.45" stroke-width="6"/>
<path d="M599 291 Q590 307 586 342" stroke="url(#gWing)" stroke-width="9"/>
<path d="M661 291 Q670 307 674 342" stroke="url(#gWing)" stroke-width="9"/>
<path d="M589 318 Q590 370 590 412" stroke="#dcc6c2" stroke-opacity="0.25" stroke-width="6"/>
<path d="M672 318 Q671 370 671 412" stroke="#dcc6c2" stroke-opacity="0.25" stroke-width="6"/>
</g>
<g filter="url(#bl2)">
<path d="M599 290 Q599 318 610 330 Q630 344 650 330 Q661 318 661 290 Q630 283 599 290 Z" fill="#ae786e" fill-opacity="0.75"/>
<path d="M614 284 Q630 314 646 284 Z" fill="#f2e6e4"/>
<ellipse cx="630" cy="318" rx="9" ry="7" fill="#c49a92" fill-opacity="0.6"/>
</g>
<g filter="url(#bl1)">
<ellipse cx="617" cy="305" rx="8.2" ry="15" transform="rotate(-33 617 305)" fill="#8e4e40"/>
<ellipse cx="644.2" cy="305" rx="8.2" ry="15" transform="rotate(33 644.2 305)" fill="#8e4e40"/>
<path d="M603 300 Q604 322 612 330" stroke="#8a4c40" stroke-width="4" fill="none" stroke-opacity="0.8"/>
<path d="M657 300 Q656 322 648 330" stroke="#8a4c40" stroke-width="4" fill="none" stroke-opacity="0.8"/>
</g>
<g filter="url(#bl1)">
<ellipse cx="617" cy="305" rx="6.6" ry="13.2" transform="rotate(-33 617 305)" fill="#b89060"/>
<ellipse cx="644.2" cy="305" rx="6.6" ry="13.2" transform="rotate(33 644.2 305)" fill="#b89060"/>
</g><g filter="url(#bl08)">
<ellipse cx="617" cy="304.8" rx="5.4" ry="11.8" transform="rotate(-33 617 304.8)" fill="#dccc7a"/>
<ellipse cx="644.2" cy="304.8" rx="5.4" ry="11.8" transform="rotate(33 644.2 304.8)" fill="#dccc7a"/>
<ellipse cx="616.6" cy="304.4" rx="4.2" ry="10" transform="rotate(-33 616.6 304.4)" fill="#f6f2a4"/>
<ellipse cx="644.6" cy="304.4" rx="4.2" ry="10" transform="rotate(33 644.6 304.4)" fill="#f6f2a4"/>
<ellipse cx="616" cy="304" rx="1.5" ry="3.5" transform="rotate(-33 616 304)" fill="#b4eaa0"/>
</g>
</g>
<g stroke="#555" stroke-width="0.9" stroke-dasharray="4 2.6"><line x1="602.6" y1="281" x2="602.6" y2="411.5"/><line x1="658.5" y1="281" x2="658.5" y2="411.5"/></g>
<rect x="576.6" y="265.8" width="107.2" height="146" fill="none" stroke="#8a8a8a" stroke-width="1.1"/>
<line x1="576.6" y1="280.2" x2="683.8" y2="280.2" stroke="#8a8a8a" stroke-width="1.1"/>
<line x1="576.6" y1="265.8" x2="576.6" y2="411.8" stroke="#555" stroke-width="1"/>
<line x1="684" y1="265.8" x2="684" y2="411.8" stroke="#555" stroke-width="1.1"/>
<path d="M581 411.2 v-2.3 M581 266.4 v2.3 M597.6 411.2 v-2.3 M597.6 266.4 v2.3 M614.2 411.2 v-2.3 M614.2 266.4 v2.3 M630.8 411.2 v-2.3 M630.8 266.4 v2.3 M647.4 411.2 v-2.3 M647.4 266.4 v2.3 M664 411.2 v-2.3 M664 266.4 v2.3 M680.6 411.2 v-2.3 M680.6 266.4 v2.3 M577.2 298.9 h2.3 M683.4 298.9 h-2.3 M577.2 317.7 h2.3 M683.4 317.7 h-2.3 M577.2 336.5 h2.3 M683.4 336.5 h-2.3 M577.2 355.3 h2.3 M683.4 355.3 h-2.3 M577.2 374.1 h2.3 M683.4 374.1 h-2.3 M577.2 392.9 h2.3 M683.4 392.9 h-2.3" stroke="#333" stroke-width="0.9"/>
<text x="597.6" y="425.6" font-size="12" text-anchor="middle" fill="#231f20">-0.4</text>
<text x="630.8" y="425.6" font-size="12" text-anchor="middle" fill="#231f20">0.0</text>
<text x="664.8" y="425.6" font-size="12" text-anchor="middle" fill="#231f20">0.4</text>
<text x="617.1" y="438.8" font-size="12" fill="#231f20" textLength="34.2" lengthAdjust="spacing"><tspan font-style="italic">k</tspan><tspan font-size="8" dy="2.5">y</tspan><tspan dy="-2.5"> (Å</tspan><tspan font-size="8" dy="-4">-1</tspan><tspan dy="4">)</tspan></text>
<text x="579.4" y="277.4" font-size="12" fill="#231f20">#2</text>
<text x="651.3" y="277.4" font-size="12" fill="#231f20">80 K</text>
<text x="609" y="289" font-size="12" fill="#231f20"><tspan font-style="italic">AB</tspan> band</text>
<text x="613.4" y="351" font-size="12" fill="#231f20"><tspan font-style="italic">B</tspan> band</text>
<g stroke="#222" stroke-width="0.8"><line x1="620.3" y1="293.2" x2="615.6" y2="302.6"/><line x1="639.8" y1="293.2" x2="644.5" y2="302.6"/><line x1="606" y1="328.5" x2="615.3" y2="338.4"/><line x1="655.3" y1="328.5" x2="645.5" y2="338.4"/></g>
<text x="598.6" y="262.6" font-size="12" fill="#231f20">Z</text>
<line x1="599" y1="252.4" x2="606.6" y2="252.4" stroke="#231f20" stroke-width="0.9"/>
<text x="626.6" y="262.6" font-size="12" fill="#231f20">X</text>
<line x1="626.8" y1="252.4" x2="634.6" y2="252.4" stroke="#231f20" stroke-width="0.9"/>
<text x="655.9" y="262.6" font-size="12" fill="#231f20">Z</text>
<line x1="656.2" y1="252.4" x2="663.8" y2="252.4" stroke="#231f20" stroke-width="0.9"/>
<g stroke="#231f20" stroke-width="0.8"><line x1="611" y1="259.5" x2="622.7" y2="259.5"/><line x1="637.3" y1="259.5" x2="648.5" y2="259.5"/></g>
<g fill="#231f20"><path d="M607.5 259.5 L614.5 257.2 L613 259.5 L614.5 261.8 Z"/><path d="M652 259.5 L645 257.2 L646.5 259.5 L645 261.8 Z"/></g>
</svg></body></html>
